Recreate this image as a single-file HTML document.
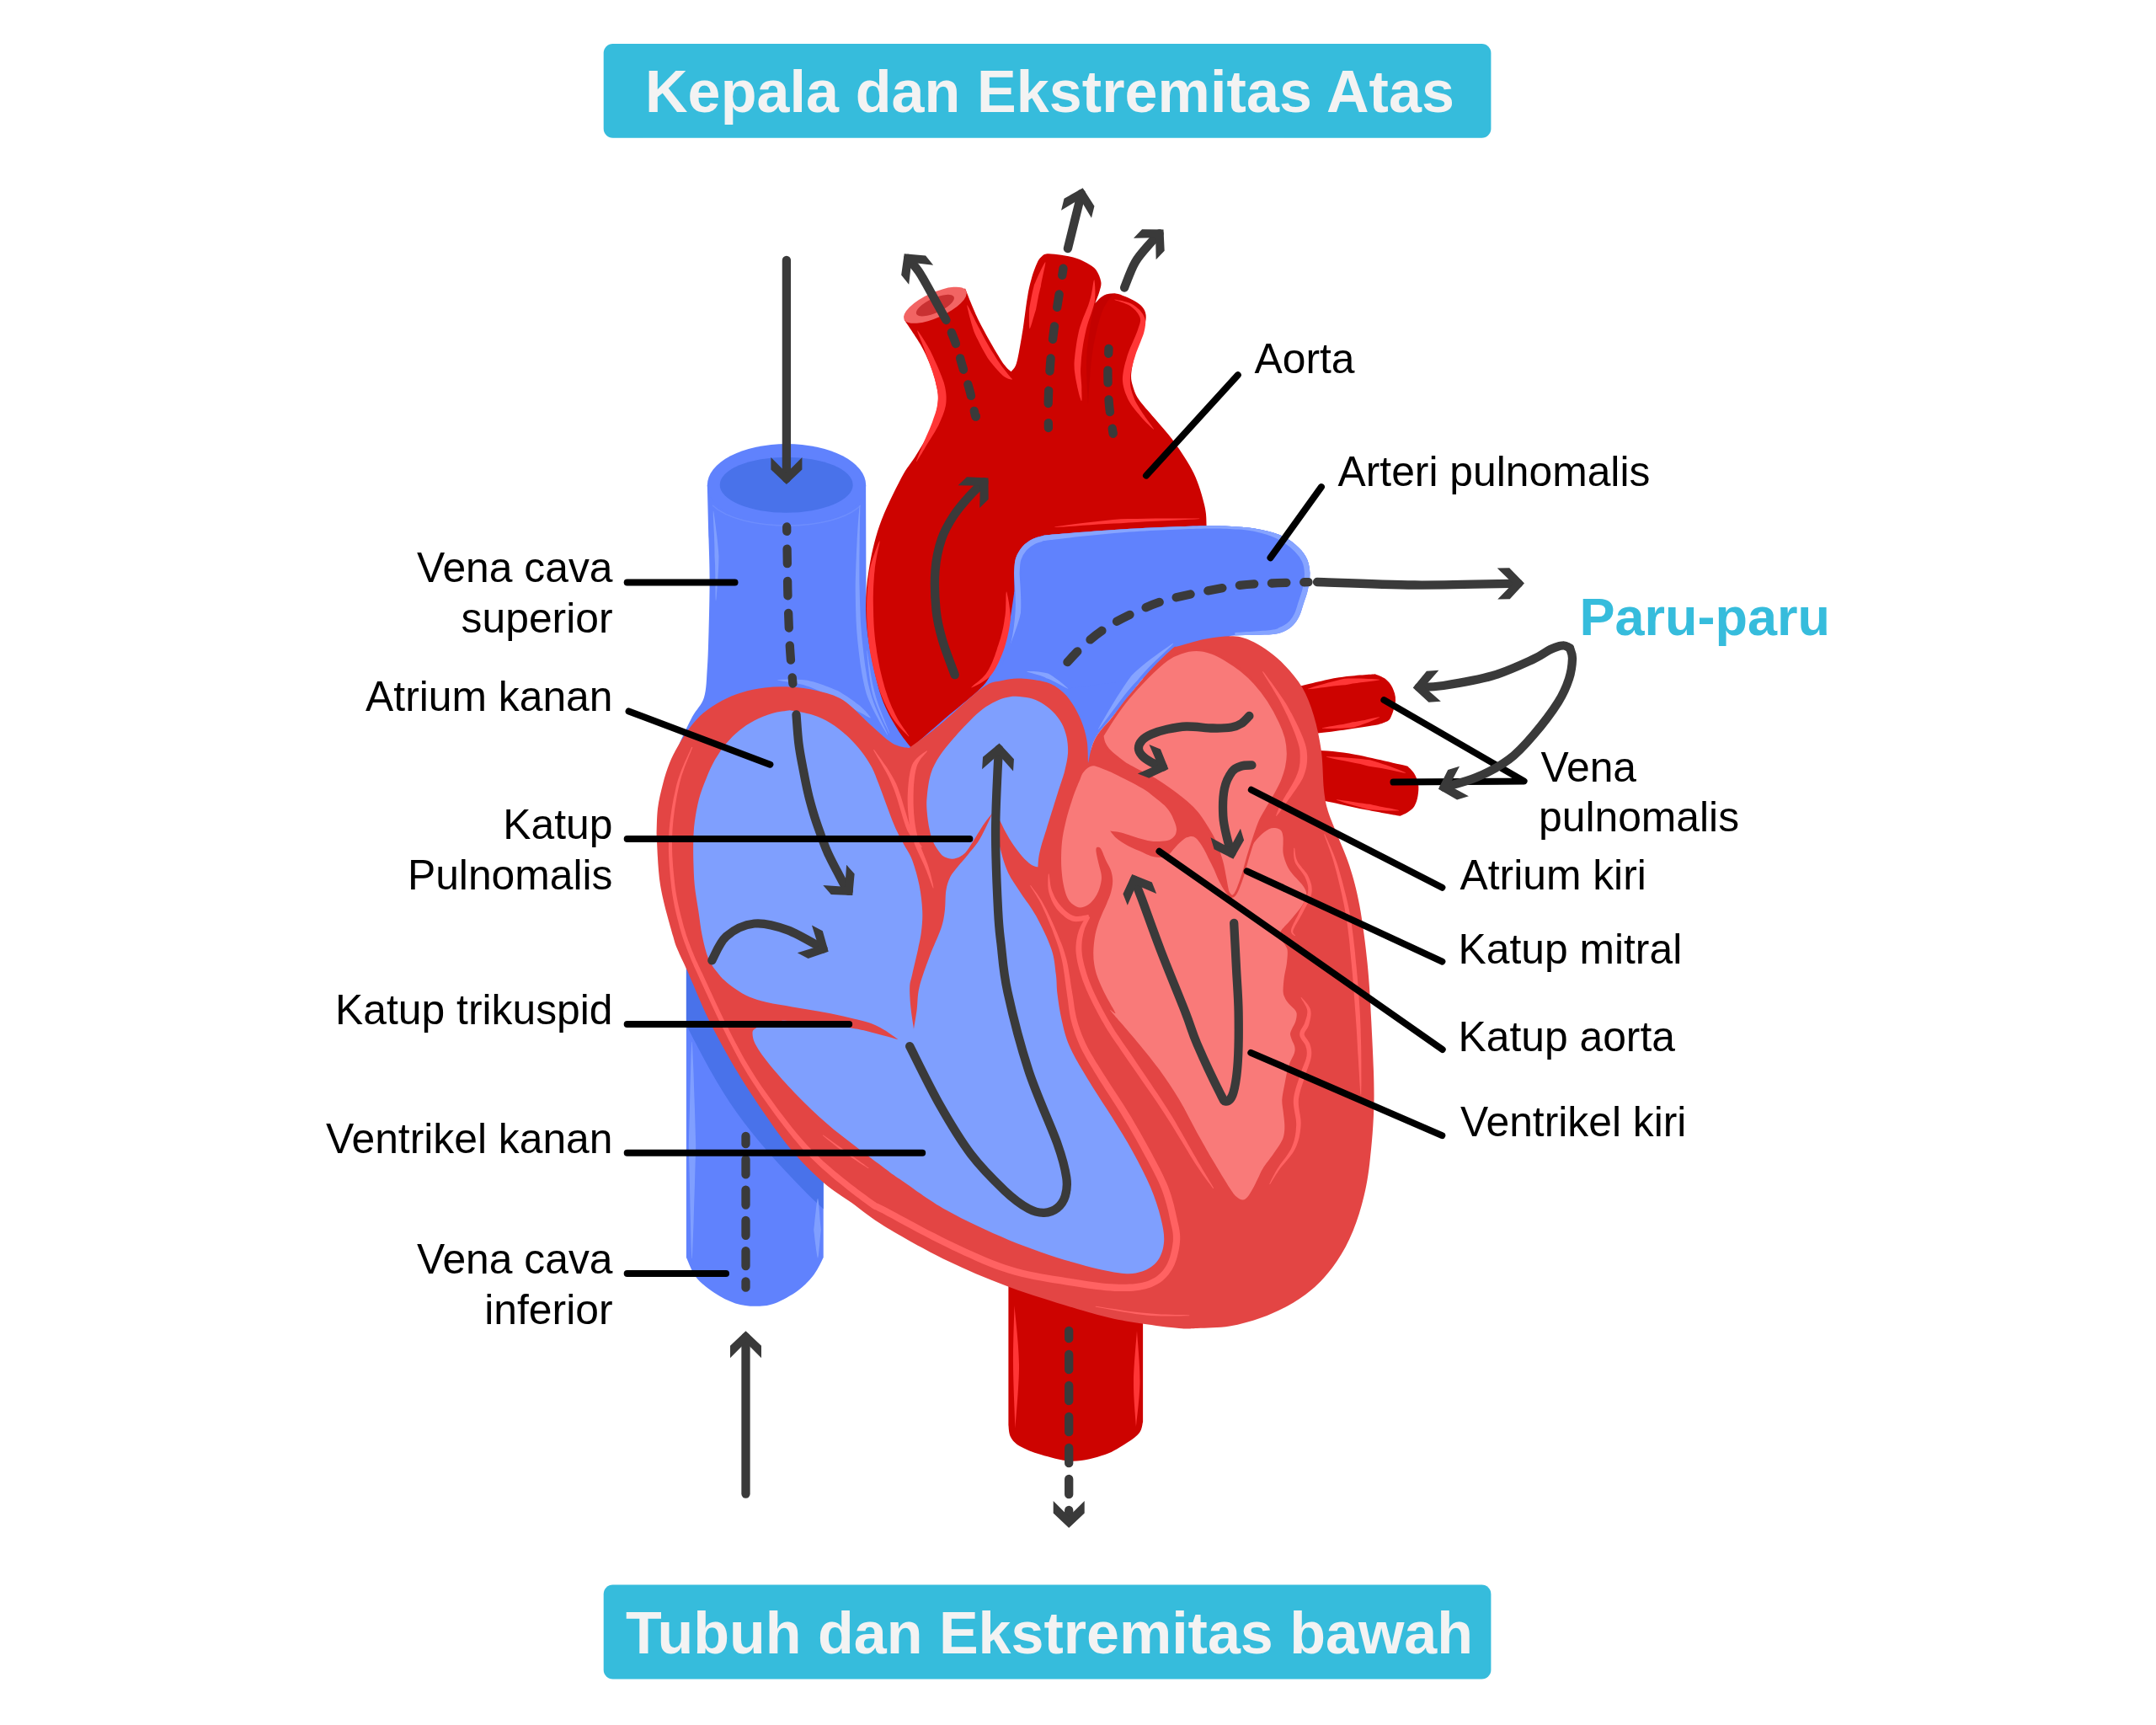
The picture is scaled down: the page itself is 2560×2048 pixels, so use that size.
<!DOCTYPE html>
<html lang="id">
<head>
<meta charset="utf-8">
<title>Jantung</title>
<style>
html,body{margin:0;padding:0;background:#fff;}
body{width:2560px;height:2048px;overflow:hidden;position:relative;font-family:"Liberation Sans",sans-serif;}
svg{position:absolute;left:0;top:0;display:block;}
.lbl{font-family:"Liberation Sans",sans-serif;font-size:49.8px;fill:#000;}
.ban{font-family:"Liberation Sans",sans-serif;font-weight:bold;font-size:70px;letter-spacing:0.1px;fill:#f3f3f3;}
.paru{font-family:"Liberation Sans",sans-serif;font-weight:bold;font-size:63px;fill:#36bcdc;}
.ll{stroke:#000;stroke-width:8;stroke-linecap:round;fill:none;}
.ar{stroke:#3a3a3a;stroke-width:10.3;stroke-linecap:round;stroke-linejoin:round;fill:none;}
.ds{stroke:#3a3a3a;stroke-width:10.3;stroke-linecap:round;fill:none;stroke-dasharray:17.4 20.8;}
.ah{fill:#3a3a3a;}
</style>
</head>
<body>
<svg width="2560" height="2048" viewBox="0 0 2560 2048">
<defs>
<path id="head" d="M0,0 L-18.5,-17.5 L-18.5,-32 L0,-13.5 L18.5,-32 L18.5,-17.5 Z"/>
</defs>
<rect x="0" y="0" width="2560" height="2048" fill="#ffffff"/>

<!-- BANNERS -->
<rect x="716.7" y="52" width="1053.7" height="111.8" rx="11" fill="#36bcdc"/>
<text class="ban" x="1246.5" y="133" text-anchor="middle">Kepala dan Ekstremitas Atas</text>
<rect x="716.7" y="1881.6" width="1053.7" height="111.8" rx="11" fill="#36bcdc"/>
<text class="ban" x="1246" y="1962.5" text-anchor="middle" style="letter-spacing:0">Tubuh dan Ekstremitas bawah</text>

<!-- VESSELS-BACK -->
<g id="vessels-back">
<path d="M839.8,576C840.1,586.7 841,621.2 841.5,640C842,658.8 842.6,670.4 842.6,688.7C842.6,707 842,732.6 841.5,750C841,767.4 840.7,780 839.8,793C838.9,806 839,818.3 836,828C833,837.7 826.7,842.3 822,851C817.3,859.7 812,871 808,880C804,889 799.7,900.8 798,905L830,1000L1300,1000L1300,900L1210,700L1028.5,723L1028.1,576Z" fill="#6082fd" />
<ellipse cx="934" cy="576" rx="94.2" ry="49" fill="#6082fd"/>
<ellipse cx="933.7" cy="575.7" rx="79" ry="33" fill="#4972ea"/>
<path d="M846,600 C880,632 990,632 1022,600" fill="none" stroke="#86a4ff" stroke-width="1.5" opacity=".35"/>
<path d="M846.8,607L846.8,610.2L846.9,614.3L847.1,619.1L847.4,624.5L847.7,630.3L848,636.4L848.2,642.6L848.4,648.7L848.5,654.6L848.5,660.1L848.8,665.6L849.1,671.4L849.2,677.5L849.3,683.7L849.4,689.8L849.4,695.6L849.5,701L849.5,705.8L849.6,709.8L849.8,713L850.2,713L850.6,709.9L850.9,705.8L851.3,701L851.7,695.7L852.1,689.9L852.5,683.8L852.9,677.6L853.2,671.5L853.4,665.5L853.5,659.9L853.1,654.4L852.5,648.4L851.9,642.3L851.2,636.1L850.4,630.1L849.7,624.3L849,618.9L848.3,614.1L847.7,610.1L847.2,607Z" fill="#86a4ff" opacity=".85"/>
<path d="M1020.8,600L1020.5,602.3L1020.2,605.1L1019.9,608.4L1019.6,612.1L1019.3,616.1L1018.9,620.5L1018.6,625.1L1018.3,630L1018,634.9L1017.7,640L1017.5,645.2L1017.2,650.8L1016.9,656.8L1016.7,662.9L1016.4,669.2L1016.2,675.7L1016,682.1L1015.8,688.6L1015.7,695L1015.7,701.2L1015.8,707.4L1015.9,713.5L1016,719.6L1016.2,725.8L1016.4,731.9L1016.6,738.1L1017,744.2L1017.4,750.4L1017.9,756.5L1018.5,762.7L1019.2,768.9L1019.9,775.2L1020.7,781.5L1021.5,787.9L1022.5,794.2L1023.5,800.5L1024.7,806.7L1026,812.8L1027.4,818.7L1029,824.4L1031.1,830.1L1033.6,835.8L1036.3,841.6L1039.2,847.2L1042.1,852.6L1044.9,857.7L1047.6,862.4L1050,866.6L1052.1,870.1L1053.7,872.8L1054.1,872.6L1052.9,869.6L1051.3,865.9L1049.2,861.6L1047,856.7L1044.5,851.4L1042,845.8L1039.6,840.1L1037.4,834.3L1035.4,828.6L1033.8,823L1032.3,817.4L1030.9,811.7L1029.7,805.7L1028.7,799.6L1027.7,793.4L1026.8,787.1L1026,780.8L1025.3,774.5L1024.6,768.3L1023.9,762.1L1023.3,756L1022.8,749.9L1022.3,743.9L1021.9,737.8L1021.6,731.7L1021.4,725.6L1021.2,719.5L1021,713.4L1020.8,707.3L1020.7,701.2L1020.5,695L1020.4,688.6L1020.4,682.2L1020.4,675.7L1020.4,669.3L1020.4,663L1020.5,656.9L1020.6,650.9L1020.6,645.3L1020.7,640L1020.7,635L1020.8,630.1L1020.9,625.2L1020.9,620.6L1021,616.2L1021.1,612.1L1021.2,608.4L1021.2,605.1L1021.3,602.3L1021.2,600Z" fill="#86a4ff" opacity=".85"/>
<path d="M1029.2,772.6L1029.5,775.7L1029.8,779.7L1030.3,784.4L1030.8,789.7L1031.4,795.3L1032.1,801.3L1032.9,807.3L1033.9,813.2L1034.9,818.8L1036.1,824.1L1037.7,829.2L1039.7,834.5L1041.8,840L1044.1,845.4L1046.5,850.7L1048.7,855.7L1050.9,860.4L1052.9,864.5L1054.5,868L1055.8,870.7L1056.2,870.5L1055.2,867.7L1053.8,864.1L1052.1,859.9L1050.1,855.1L1048.1,850L1046,844.6L1043.9,839.2L1042,833.7L1040.3,828.4L1038.9,823.3L1037.6,818.2L1036.3,812.7L1035.2,806.9L1034.1,801L1033.2,795.1L1032.3,789.5L1031.5,784.2L1030.8,779.6L1030.2,775.6L1029.6,772.6Z" fill="#86a4ff" opacity=".85"/>
<path d="M923.3,807.5L925.3,808L928,808.5L931.1,809L934.6,809.5L938.4,810L942.3,810.6L946.2,811.4L950.1,812.2L953.8,813.1L957.2,814.2L960.5,815.3L963.9,816.6L967.3,818L970.8,819.5L974.2,821.1L977.6,822.8L981,824.6L984.2,826.3L987.4,828L990.4,829.7L993.4,831L996.3,832.4L999.3,833.9L1002.1,835.4L1004.9,836.9L1007.6,838.4L1010.2,839.9L1012.7,841.3L1015,842.6L1017.2,843.9L1019.4,845L1021.4,846L1023.3,847.1L1025.1,848.1L1026.8,849L1028.4,849.9L1029.9,850.7L1031.2,851.4L1032.3,852L1033.3,852.4L1033.7,852L1033.1,851.1L1032.3,850.1L1031.4,848.9L1030.4,847.6L1029.2,846.2L1027.9,844.6L1026.4,843.1L1024.8,841.4L1023,839.8L1021.2,838.1L1019.1,836.5L1016.9,834.9L1014.6,833.1L1012.1,831.3L1009.5,829.5L1006.8,827.6L1004,825.7L1001.1,823.9L998.1,822L995,820.3L991.8,818.9L988.4,817.5L984.8,816.1L981.2,814.7L977.5,813.3L973.8,812L970,810.8L966.2,809.6L962.5,808.7L958.8,807.8L954.9,807.3L950.9,806.9L946.8,806.7L942.6,806.6L938.6,806.5L934.8,806.6L931.2,806.7L928.1,806.8L925.4,806.9L923.3,807.1Z" fill="#86a4ff" opacity=".85"/>
<clipPath id="ivcclip"><path d="M814.9,1100L814.9,1493.1C816.9,1497 821,1509.4 826.6,1516.4C832.2,1523.4 840.6,1529.9 848.4,1535.1C856.2,1540.3 865.2,1544.9 873.2,1547.5C881.2,1550.1 888.7,1550.8 896.5,1550.8C904.3,1550.8 911.2,1550.6 919.8,1547.5C928.3,1544.4 940,1537.7 947.8,1532C955.6,1526.3 961.5,1519.8 966.5,1513.3C971.5,1506.8 975.8,1496.5 977.7,1493.1L977.7,1100Z"/></clipPath>
<path d="M814.9,1100L814.9,1493.1C816.9,1497 821,1509.4 826.6,1516.4C832.2,1523.4 840.6,1529.9 848.4,1535.1C856.2,1540.3 865.2,1544.9 873.2,1547.5C881.2,1550.1 888.7,1550.8 896.5,1550.8C904.3,1550.8 911.2,1550.6 919.8,1547.5C928.3,1544.4 940,1537.7 947.8,1532C955.6,1526.3 961.5,1519.8 966.5,1513.3C971.5,1506.8 975.8,1496.5 977.7,1493.1L977.7,1100Z" fill="#6082fd" />
<g clip-path="url(#ivcclip)"><path d="M790,1100C797.6,1116.7 817.8,1165.8 835.4,1200C853,1234.2 872.1,1272.3 895.7,1305.5C919.3,1338.7 949.5,1371.4 977.1,1399C1004.7,1426.6 1047.4,1459.2 1061.5,1471.3" fill="none" stroke="#4972ea" stroke-width="52"/></g>
<path d="M821.3,1237L820.9,1244.3L820.5,1253.6L820.2,1264.5L819.9,1276.8L819.5,1290.1L819.2,1304.1L818.9,1318.4L818.5,1332.7L818.1,1346.7L817.8,1360L818.1,1373.6L818.5,1388.2L818.9,1403.6L819.2,1419.2L819.5,1434.7L819.9,1449.5L820.2,1463.3L820.5,1475.6L820.9,1486L821.3,1494L821.7,1494L822.2,1486L822.6,1475.6L823.1,1463.3L823.6,1449.5L824,1434.7L824.5,1419.3L825,1403.6L825.4,1388.2L825.8,1373.6L826.2,1360L825.8,1346.7L825.4,1332.7L825,1318.4L824.5,1304.1L824,1290.1L823.6,1276.8L823.1,1264.5L822.6,1253.5L822.2,1244.3L821.7,1237Z" fill="#86a4ff" opacity=".85"/>
<path d="M970.8,1423L970.3,1425.2L969.9,1428.1L969.4,1431.5L968.9,1435.3L968.5,1439.4L968,1443.6L967.5,1448L967.1,1452.2L966.7,1456.3L966.2,1460L966.7,1463.7L967.1,1467.5L967.5,1471.4L968,1475.3L968.5,1479.1L968.9,1482.7L969.4,1486.1L969.9,1489L970.3,1491.5L970.8,1493.5L971.2,1493.5L971.6,1491.5L972,1489L972.3,1486L972.6,1482.6L973,1479L973.3,1475.2L973.6,1471.3L974,1467.4L974.4,1463.6L974.8,1460L974.4,1456.3L974,1452.3L973.6,1448L973.3,1443.7L973,1439.4L972.6,1435.3L972.3,1431.5L972,1428.1L971.6,1425.2L971.2,1423Z" fill="#86a4ff" opacity=".85"/>
<path d="M1197.4,1480L1197.4,1692C1197.8,1694.3 1197.7,1701.8 1200,1706C1202.3,1710.2 1205,1713.5 1211,1717C1217,1720.5 1225.5,1724 1236,1727C1246.5,1730 1261.3,1734.7 1274,1734.7C1286.7,1734.7 1301.3,1730.6 1312,1727C1322.7,1723.4 1331.2,1717.3 1338,1713C1344.8,1708.7 1349.8,1705.2 1353,1701C1356.2,1696.8 1356.4,1690.2 1357.1,1688L1357.1,1480Z" fill="#cd0300" />
<path d="M1204.5,1550C1204.2,1561.7 1202.8,1595.7 1203,1620C1203.2,1644.3 1205.1,1683.3 1205.5,1696C1206.2,1683.3 1210.2,1644.3 1210,1620C1209.8,1595.7 1205.4,1561.7 1204.5,1550Z" fill="#ff3636" />
<path d="M1350,1580C1349.3,1590 1346.2,1621 1346,1640C1345.8,1659 1348.5,1685 1349,1694C1349.8,1685 1353.3,1659 1353.5,1640C1353.7,1621 1350.6,1590 1350,1580Z" fill="#ff3636" />
<path d="M1540,815.5C1548.3,813.6 1574.5,806.8 1590,804.3C1605.5,801.8 1625.7,800.9 1632.8,800.2C1634.8,801.2 1641.6,803.3 1645,806C1648.4,808.7 1651.3,812 1653.3,816.3C1655.3,820.6 1657.4,826 1657,832C1656.6,838 1653.3,848.1 1651,852.4C1648.7,856.7 1645.6,856.6 1643,858C1640.4,859.4 1636.5,860.1 1635.2,860.5C1629.3,861.4 1612,864.3 1600,866C1588,867.7 1572.9,869.8 1562.9,870.8C1552.9,871.8 1543.8,871.8 1540,872Z" fill="#cd0300" />
<path d="M1560,890.5C1567,891.2 1583.5,891.4 1602.1,894.6C1620.7,897.8 1659.9,907.2 1671.4,909.7C1672.7,911.1 1676.9,914.5 1679,918C1681.1,921.5 1683.2,926.3 1684,930.8C1684.8,935.3 1684.2,940.6 1683.5,945C1682.8,949.4 1681.4,953.7 1679.5,956.9C1677.6,960.1 1674.8,962 1672,964C1669.2,966 1664,968 1662.4,968.8C1655.3,967.5 1634.1,963.8 1620,961C1605.9,958.2 1588,953.7 1578,951.9C1568,950.1 1563,950.3 1560,950Z" fill="#cd0300" />
<path d="M1553,818.2L1555.7,818.1L1559.2,817.7L1563.3,817.2L1567.9,816.5L1572.8,815.9L1577.9,815.2L1583.1,814.5L1588.1,814L1593,813.5L1597.4,813.2L1601.7,812.4L1606.2,811.6L1610.9,810.9L1615.6,810.3L1620.3,809.7L1624.7,809.2L1628.8,808.7L1632.5,808.2L1635.6,807.7L1638,807.2L1638,806.8L1635.5,806.5L1632.4,806.3L1628.7,806.1L1624.6,805.9L1620.1,805.7L1615.4,805.6L1610.6,805.5L1605.7,805.5L1601,805.6L1596.4,805.8L1591.9,806.8L1587.1,807.9L1582.1,809.2L1577,810.6L1572,811.9L1567.2,813.3L1562.8,814.6L1558.8,815.8L1555.5,816.9L1553,817.8Z" fill="#ff3636" />
<path d="M1570,864.7L1572.3,864.8L1575.1,864.9L1578.6,864.9L1582.4,864.9L1586.5,864.8L1590.8,864.7L1595.1,864.5L1599.4,864.3L1603.4,864L1607.2,863.7L1610.7,862.6L1614.4,861.4L1618,860.1L1621.6,858.8L1625.1,857.4L1628.4,856.1L1631.4,854.8L1634.1,853.6L1636.3,852.6L1638.1,851.7L1637.9,851.3L1636,851.5L1633.6,852L1630.7,852.6L1627.5,853.3L1624.1,854.1L1620.5,854.9L1616.8,855.6L1613.1,856.3L1609.4,856.9L1606,857.3L1602.5,858.2L1598.7,859.1L1594.6,859.9L1590.4,860.6L1586.2,861.3L1582.1,862L1578.4,862.6L1575,863.2L1572.2,863.7L1570,864.3Z" fill="#ff3636" />
<path d="M1575,898.7L1578,899.5L1582,900.4L1586.7,901.4L1591.9,902.4L1597.6,903.5L1603.5,904.7L1609.4,905.9L1615.1,907.1L1620.5,908.4L1625.4,909.7L1630.2,910.4L1635.2,911.2L1640.2,912.1L1645.3,913.1L1650.2,914.1L1654.9,915.1L1659.2,916L1663,916.8L1666.3,917.4L1668.9,917.7L1669.1,917.3L1666.6,916.2L1663.6,915L1659.9,913.5L1655.8,912L1651.3,910.3L1646.5,908.6L1641.6,906.9L1636.6,905.3L1631.7,903.7L1626.8,902.3L1621.7,901.7L1616.1,901.1L1610.2,900.5L1604.1,900L1598.1,899.5L1592.4,899.1L1587,898.8L1582.2,898.5L1578.2,898.3L1575,898.3Z" fill="#ff3636" />
<path d="M1586.9,949.7L1589.2,950.6L1592.2,951.6L1595.7,952.7L1599.7,953.9L1604,955.2L1608.4,956.5L1613,957.8L1617.4,959L1621.6,960.2L1625.5,961.2L1629.5,961.5L1633.5,961.8L1637.7,962.1L1641.8,962.3L1645.8,962.4L1649.6,962.5L1653.1,962.6L1656.2,962.6L1658.9,962.6L1661,962.5L1661,962.1L1659,961.5L1656.4,960.9L1653.3,960.3L1649.9,959.6L1646.2,958.9L1642.3,958.2L1638.3,957.4L1634.3,956.6L1630.4,955.7L1626.7,954.8L1622.7,954.4L1618.5,953.8L1613.9,953.2L1609.3,952.5L1604.8,951.8L1600.4,951.1L1596.2,950.4L1592.6,949.9L1589.5,949.5L1587.1,949.3Z" fill="#ff3636" />
<path d="M1180,801C1183,796 1193.8,783.5 1198.1,771C1202.4,758.5 1204.6,740.9 1205.6,725.8C1206.6,710.7 1204.3,688.1 1204.1,680.6C1204.4,677.7 1204.3,668.3 1206,663C1207.7,657.7 1210.7,652.8 1214,649C1217.3,645.2 1221.6,642.3 1226,640C1230.4,637.7 1237.9,636.2 1240.3,635.4C1255.2,634.2 1299.8,630.3 1330,628.5C1360.2,626.7 1397.9,625 1421.2,624.5C1444.5,624 1456.9,624.7 1470,625.5C1483.1,626.3 1491,627.6 1500,629.5C1509,631.4 1517,633.6 1524,637C1531,640.4 1537.1,645.5 1541.8,650C1546.5,654.5 1549.7,658.9 1552,664C1554.3,669.1 1555.2,674.6 1555.4,680.6C1555.6,686.6 1554.3,694 1553,700C1551.7,706 1549.5,711.6 1547.8,716.8C1546.1,722 1545,726.8 1543,731C1541,735.2 1538.7,738.9 1535.7,742C1532.7,745.1 1529,747.7 1525,749.5C1521,751.3 1517.4,752.3 1511.6,753C1505.8,753.7 1497.5,753.5 1490,753.8C1482.5,754 1474.7,754 1466.4,754.5C1458.1,755 1447.5,756 1440,757C1432.5,758 1429.4,758.2 1421.2,760.5C1413,762.8 1401,764.2 1391,771C1381,777.8 1372,788.6 1360.9,801.2C1349.9,813.8 1334.8,833.8 1324.7,846.4C1314.7,859 1306.1,866.5 1300.6,876.6C1295.1,886.7 1293,901.7 1291.5,906.7L1291.5,1000L1100,1000Z" fill="#6082fd" />
</g>

<!-- AORTA -->
<g id="aorta">
<path d="M1073.7,379.7C1076.9,384.5 1087.8,400 1092.8,408.7C1097.8,417.4 1100.9,424.3 1104,432C1107.1,439.7 1109.7,447.3 1111.3,455C1112.9,462.7 1114.9,469.1 1113.8,478.3C1112.7,487.5 1109,499.7 1104.7,510C1100.4,520.3 1093.8,530.3 1088,540C1082.2,549.7 1077.2,554 1069.9,568C1062.6,582 1050.8,605.6 1044.4,623.8C1038,642 1034.3,660.4 1031.6,677C1028.9,693.6 1027.9,708 1028.1,723.5C1028.3,739 1029.7,752.5 1032.8,769.9C1035.9,787.3 1041.3,812 1046.7,827.9C1052.1,843.8 1059.3,855 1065.2,865C1071.1,875 1079.2,884.2 1082,888C1088.7,882.2 1109,864.2 1122,853C1135,841.8 1151.6,828.9 1160.3,820.9C1169,812.9 1169.8,811.9 1174.2,804.7C1178.7,797.6 1183.1,787.7 1187,778C1190.9,768.3 1194.5,759.3 1197.4,746.7C1200.3,734.1 1203.2,710 1204.4,702.6L1300,720L1432,650C1432.1,645.8 1432.9,633.1 1432.6,624.8C1432.3,616.5 1432.7,610.5 1430.2,600C1427.7,589.5 1423.4,574.3 1417.4,561.8C1411.4,549.2 1401.9,535.5 1394.2,524.7C1386.5,513.9 1378,505.2 1371,496.8C1364,488.4 1356.3,480.5 1352,474C1347.7,467.5 1346.5,463.1 1345,458C1343.5,452.9 1342.7,449.8 1343.2,443.5C1343.7,437.2 1345.4,429.2 1347.9,420.3C1350.4,411.4 1356.2,397.9 1358.3,390.2C1360.4,382.5 1361,378.4 1360.6,374C1360.2,369.6 1358.1,366.7 1356,364C1353.9,361.3 1351.2,359.7 1347.9,357.7C1344.6,355.7 1339.9,353.6 1336,352C1332.1,350.4 1328.9,348.6 1324.7,348.4C1320.5,348.2 1314.9,348.8 1310.8,350.7C1306.7,352.6 1302,358.4 1300.3,360C1301.2,357.7 1304.3,350.2 1305.5,346C1306.7,341.8 1308,338.7 1307.3,334.5C1306.6,330.3 1304.2,324.3 1301.5,320.6C1298.8,316.9 1294.9,314.8 1291,312.5C1287.1,310.2 1283.5,308.3 1278.3,306.7C1273.1,305.1 1265.8,303.7 1260,302.8C1254.2,301.9 1247.3,301 1243.5,301.3C1239.7,301.6 1238.9,302.8 1237,304.5C1235.1,306.2 1233.9,307.1 1231.9,311.3C1229.9,315.6 1226.9,323.4 1225,330C1223.1,336.6 1222,341 1220.3,350.7C1218.6,360.4 1216.7,376.8 1215,388C1213.3,399.2 1211.4,410.3 1209.9,418C1208.4,425.7 1207.5,430.1 1206,434C1204.5,437.9 1201.5,440 1200.6,441.2C1199.5,440.2 1196.5,438.1 1194,435C1191.5,431.9 1190.8,431.6 1185.5,422.6C1180.2,413.6 1168.9,394.2 1162.3,380.9C1155.7,367.6 1148.7,349 1146,342.6L1073.7,379.7Z" fill="#cd0300" />
<ellipse cx="1110.4" cy="362.3" rx="40.6" ry="14.8" transform="rotate(-24.5 1110.4 362.3)" fill="#f26463"/>
<ellipse cx="1110.4" cy="362.6" rx="24.5" ry="8.6" transform="rotate(-24.4 1110.4 362.6)" fill="#c93132"/>
<path d="M1300.3,360C1302,358.4 1307.2,352.6 1310.8,350.7C1314.4,348.8 1320.1,348.9 1322,348.5C1319.7,352.4 1312.2,360.1 1308,372C1303.8,383.9 1299.7,402 1297,420C1294.3,438 1292.8,470 1292,480C1291.7,471.7 1289.7,445 1290,430C1290.3,415 1292.3,401.7 1294,390C1295.7,378.3 1299.2,365 1300.3,360Z" fill="#b90000" opacity=".45"/>
<path d="M1089.1,392.6L1089.6,394.2L1090.3,396.2L1091.2,398.4L1092.2,400.9L1093.3,403.7L1094.5,406.6L1095.7,409.7L1097,412.8L1098.1,416L1099.2,419.2L1100.5,422.5L1101.8,426.2L1103.2,430L1104.6,434L1106,438.1L1107.4,442.1L1108.6,446L1109.8,449.8L1110.7,453.2L1111.4,456.4L1112.1,459.1L1112.7,461.6L1113.1,463.9L1113.4,466L1113.6,468L1113.7,469.9L1113.7,471.8L1113.7,473.7L1113.5,475.7L1113.3,477.8L1113.1,479.9L1112.8,481.9L1112.4,484.1L1111.9,486.3L1111.3,488.5L1110.6,490.7L1109.8,493L1109,495.3L1108.2,497.6L1107.4,499.9L1106.6,502.2L1105.7,504.5L1104.8,506.8L1103.8,509.2L1102.8,511.5L1101.7,513.9L1100.7,516.3L1099.6,518.7L1098.5,521.2L1097.5,523.6L1096.5,526.1L1095.4,528.8L1094.2,531.6L1093.1,534.4L1091.9,537.1L1090.9,539.8L1089.9,542.2L1089.1,544.4L1088.4,546.3L1087.9,547.8L1088.3,548L1089.2,546.7L1090.3,545.1L1091.6,543.1L1092.9,540.8L1094.4,538.4L1095.9,535.8L1097.5,533.2L1099,530.6L1100.5,528.1L1101.9,525.8L1103.3,523.6L1104.6,521.4L1106,519.2L1107.4,516.9L1108.8,514.7L1110.2,512.4L1111.5,510.1L1112.8,507.8L1114.1,505.5L1115.2,503.1L1116.2,500.8L1117.2,498.5L1118.2,496.1L1119.2,493.7L1120.1,491.3L1120.9,488.9L1121.7,486.4L1122.3,483.9L1122.9,481.4L1123.3,478.8L1123.5,476.4L1123.6,474.1L1123.6,471.8L1123.5,469.5L1123.3,467.1L1123,464.7L1122.6,462.2L1122.1,459.6L1121.4,456.8L1120.6,453.8L1119.4,450.6L1118.1,447L1116.6,443.2L1115,439.3L1113.3,435.3L1111.5,431.3L1109.7,427.4L1108,423.6L1106.3,420.1L1104.8,416.8L1103.1,413.7L1101.4,410.7L1099.6,407.7L1097.9,404.9L1096.2,402.2L1094.6,399.7L1093.1,397.4L1091.7,395.4L1090.5,393.7L1089.5,392.4Z" fill="#ff3636" />
<path d="M1148.2,362.4L1148.5,364.3L1149,366.7L1149.7,369.6L1150.4,372.8L1151.3,376.2L1152.3,379.8L1153.3,383.5L1154.4,387.1L1155.5,390.7L1156.6,394.1L1158,397.2L1159.5,400.4L1161.1,403.6L1162.7,406.8L1164.3,410L1166,413.2L1167.7,416.3L1169.4,419.3L1171.1,422.2L1172.7,424.9L1174.5,427.4L1176.4,429.9L1178.3,432.3L1180.1,434.6L1182,436.7L1183.8,438.8L1185.6,440.7L1187.2,442.5L1188.8,444.1L1190.3,445.5L1191.8,446.7L1193.3,447.7L1194.7,448.6L1196.1,449.2L1197.3,449.7L1198.4,450L1199.4,450.3L1200.2,450.5L1201,450.6L1201.7,450.7L1201.9,450.3L1201.6,449.7L1201,449.1L1200.4,448.4L1199.8,447.7L1199,446.9L1198.3,446.1L1197.4,445.1L1196.6,444.1L1195.7,442.8L1194.7,441.5L1193.5,439.9L1192.2,438.2L1190.7,436.4L1189.2,434.4L1187.7,432.2L1186.1,430L1184.5,427.7L1182.9,425.3L1181.4,422.8L1179.9,420.3L1178.2,417.8L1176.5,415.1L1174.8,412.2L1173.1,409.3L1171.4,406.2L1169.7,403.2L1168,400.1L1166.4,397L1164.9,393.9L1163.4,390.9L1161.7,388L1160,384.8L1158.3,381.5L1156.7,378.1L1155.1,374.8L1153.5,371.7L1152.1,368.7L1150.8,366.1L1149.6,363.9L1148.6,362.2Z" fill="#ff3636" />
<path d="M1241,311.2L1240,312.7L1238.9,314.7L1237.7,317.1L1236.3,319.8L1234.9,322.8L1233.4,325.8L1232,329L1230.6,332.1L1229.3,335.2L1228,338L1227.3,340.9L1226.6,343.8L1225.9,346.8L1225.3,349.7L1224.7,352.6L1224.2,355.4L1223.6,358.2L1223.1,361L1222.6,363.7L1222.2,366.3L1222.1,369L1222,371.8L1221.9,374.6L1221.9,377.4L1221.9,380L1221.9,382.6L1222,384.9L1222,387L1222.2,388.8L1222.4,390.2L1222.8,390.2L1223.4,388.9L1224,387.3L1224.7,385.3L1225.4,383.1L1226.1,380.6L1226.8,378.1L1227.6,375.5L1228.4,372.8L1229.2,370.2L1230,367.7L1230.5,365.1L1231,362.4L1231.5,359.7L1232,356.9L1232.6,354.1L1233.1,351.3L1233.7,348.5L1234.4,345.7L1235,342.9L1235.8,340.2L1236.2,337.2L1236.8,334.1L1237.5,330.8L1238.2,327.4L1238.9,324.2L1239.6,321L1240.3,318.1L1240.8,315.4L1241.2,313.2L1241.4,311.4Z" fill="#ff3636" />
<path d="M1299,332.2L1298.6,333.6L1298.2,335.5L1297.9,337.6L1297.5,340.1L1297.1,342.7L1296.6,345.5L1296.1,348.3L1295.5,351.3L1294.7,354.2L1293.9,357L1293,359.9L1292,363L1290.7,366.2L1289.4,369.5L1288,373L1286.5,376.6L1285.1,380.2L1283.8,383.9L1282.5,387.7L1281.4,391.6L1280.5,395.5L1279.7,399.5L1278.9,403.6L1278.2,407.8L1277.6,412.1L1277,416.2L1276.5,420.3L1276.1,424.3L1275.7,428.1L1275.5,431.7L1275.6,435.2L1275.7,438.5L1276.1,441.7L1276.5,444.7L1276.9,447.6L1277.4,450.4L1277.9,453L1278.4,455.4L1278.9,457.8L1279.3,460L1279.8,462.1L1280.3,464.2L1280.8,466.2L1281.2,468.1L1281.7,469.8L1282.2,471.4L1282.7,472.8L1283.1,474.1L1283.5,475.2L1283.9,476L1284.3,476L1284.4,475L1284.5,473.9L1284.5,472.5L1284.5,471L1284.5,469.4L1284.4,467.6L1284.4,465.7L1284.3,463.7L1284.3,461.6L1284.3,459.4L1284.2,457.1L1284,454.7L1283.8,452.2L1283.6,449.6L1283.4,446.9L1283.2,444.1L1283.1,441.2L1283.1,438.3L1283.3,435.2L1283.5,432.1L1283.7,428.7L1284,425.1L1284.4,421.2L1284.9,417.3L1285.5,413.2L1286.1,409.1L1286.8,405L1287.6,401L1288.4,397.1L1289.2,393.4L1290,389.8L1291,386.3L1292.1,382.6L1293.3,379L1294.5,375.5L1295.8,371.9L1296.9,368.4L1298,365L1299,361.6L1299.7,358.4L1300.1,355.1L1300.3,351.9L1300.4,348.8L1300.4,345.8L1300.3,342.9L1300.2,340.2L1300,337.7L1299.8,335.6L1299.6,333.7L1299.4,332.2Z" fill="#ff3636" />
<path d="M1323.4,356L1324.6,356.5L1326.2,357L1328,357.6L1330.1,358.3L1332.3,359L1334.6,359.8L1336.8,360.7L1338.9,361.6L1340.8,362.5L1342.4,363.6L1343.9,364.7L1345.4,365.9L1346.8,367.2L1348.2,368.6L1349.4,370.1L1350.6,371.5L1351.6,373L1352.5,374.5L1353.2,375.9L1353.7,377.2L1353.9,378.5L1354.1,379.7L1354.1,380.8L1353.9,381.9L1353.7,383L1353.4,384.3L1352.9,385.8L1352.3,387.4L1351.7,389.3L1351,391.4L1350.2,393.7L1349.2,396.2L1348.1,399L1346.8,402L1345.4,405.2L1344,408.4L1342.5,411.7L1341.2,414.9L1340,418.2L1338.9,421.3L1338,424.2L1337.2,427.2L1336.3,430.1L1335.5,433L1334.8,436L1334.2,438.9L1333.7,441.8L1333.3,444.7L1333,447.6L1332.9,450.5L1333.1,453.3L1333.4,456L1333.9,458.6L1334.5,461.1L1335.2,463.6L1336,466L1336.9,468.3L1337.9,470.6L1338.9,472.9L1340,475.2L1341.3,477.4L1342.7,479.7L1344.2,481.9L1345.8,484.1L1347.5,486.2L1349.1,488.2L1350.8,490.2L1352.4,492.1L1354,494L1355.5,495.7L1357,497.4L1358.7,499.2L1360.3,500.9L1361.9,502.5L1363.5,504.1L1365,505.6L1366.5,506.9L1367.7,508L1368.8,509L1369.7,509.8L1370.1,509.4L1369.5,508.4L1368.6,507.2L1367.6,505.8L1366.5,504.3L1365.2,502.6L1363.9,500.8L1362.6,499L1361.2,497.1L1359.9,495.2L1358.7,493.3L1357.4,491.4L1356.1,489.4L1354.7,487.3L1353.3,485.2L1352,483L1350.6,480.8L1349.4,478.7L1348.2,476.5L1347.2,474.4L1346.4,472.2L1345.6,470.1L1344.8,467.9L1344.1,465.8L1343.5,463.6L1342.9,461.5L1342.5,459.3L1342.2,457.2L1342,455L1341.9,452.8L1341.9,450.5L1342,448.2L1342.2,445.8L1342.5,443.3L1343,440.7L1343.6,438L1344.3,435.3L1345,432.5L1345.8,429.6L1346.6,426.8L1347.5,423.9L1348.4,421.1L1349.4,418.1L1350.6,414.9L1351.9,411.7L1353.2,408.5L1354.5,405.3L1355.7,402.1L1356.9,399.1L1357.9,396.3L1358.6,393.6L1359.1,391.3L1359.5,389.3L1359.8,387.3L1360,385.5L1360.2,383.8L1360.1,382L1359.9,380.3L1359.6,378.7L1359,377L1358.3,375.4L1357.5,373.7L1356.4,372L1355.2,370.4L1353.8,368.8L1352.4,367.3L1350.8,365.9L1349.2,364.5L1347.5,363.2L1345.7,362.1L1344,361L1342,360.1L1339.9,359.3L1337.5,358.5L1335.2,357.9L1332.8,357.3L1330.5,356.8L1328.3,356.4L1326.4,356.1L1324.8,355.8L1323.6,355.6Z" fill="#ff3636" />
<path d="M1044.2,642.2L1043.3,644.2L1042.3,646.6L1041.2,649.5L1039.9,652.8L1038.6,656.4L1037.3,660.2L1035.9,664.2L1034.7,668.3L1033.6,672.5L1032.6,676.7L1032,680.9L1031.4,685.3L1030.9,689.9L1030.4,694.6L1030,699.4L1029.7,704.2L1029.4,709.1L1029.2,714L1029.1,718.8L1029,723.5L1029.1,728.2L1029.2,732.9L1029.4,737.6L1029.6,742.3L1029.9,747L1030.3,751.7L1030.8,756.4L1031.3,761.1L1031.9,765.8L1032.5,770.5L1033.3,775.2L1034.2,780.1L1035.2,784.9L1036.2,789.8L1037.3,794.6L1038.5,799.4L1039.7,804.1L1040.9,808.7L1042.2,813.1L1043.6,817.3L1045,821.4L1046.4,825.3L1048,829.1L1049.5,832.8L1051.2,836.3L1052.8,839.8L1054.5,843.1L1056.2,846.3L1057.9,849.4L1059.6,852.3L1061.6,855.2L1063.7,858L1065.9,860.7L1068.1,863.3L1070.4,865.7L1072.5,868L1074.5,870L1076.3,871.8L1077.8,873.3L1079,874.5L1079.4,874.1L1078.5,872.7L1077.3,870.9L1075.9,868.8L1074.3,866.5L1072.5,864L1070.7,861.3L1068.9,858.6L1067.1,855.7L1065.4,852.8L1064,849.9L1062.5,846.9L1061,843.8L1059.5,840.7L1058.1,837.4L1056.7,834L1055.3,830.4L1053.9,826.8L1052.7,823.1L1051.4,819.2L1050.2,815.3L1049.1,811.1L1047.9,806.8L1046.8,802.3L1045.7,797.7L1044.6,793L1043.7,788.2L1042.8,783.4L1041.9,778.7L1041.1,773.9L1040.5,769.3L1039.8,764.7L1039.2,760.2L1038.7,755.6L1038.3,751L1037.9,746.4L1037.6,741.8L1037.4,737.2L1037.2,732.6L1037.1,728.1L1037,723.5L1036.9,718.8L1036.8,714.1L1036.8,709.3L1036.9,704.5L1037,699.8L1037.2,695.1L1037.5,690.4L1037.8,686L1038.1,681.6L1038.6,677.5L1038.9,673.5L1039.5,669.4L1040.2,665.2L1040.9,661.2L1041.7,657.2L1042.5,653.5L1043.2,650.1L1043.9,647.1L1044.4,644.5L1044.6,642.4Z" fill="#ff3636" />
<path d="M1194.9,702.6L1194.6,704.6L1194.5,707.1L1194.4,710L1194.4,713.3L1194.3,716.8L1194.2,720.5L1194.1,724.2L1193.8,727.9L1193.4,731.5L1192.8,734.8L1192.4,738L1191.8,741.4L1191.2,744.8L1190.4,748.3L1189.6,751.8L1188.6,755.3L1187.7,758.7L1186.6,762.1L1185.5,765.4L1184.4,768.6L1183.4,771.9L1182.3,775.1L1181.2,778.4L1180,781.6L1178.8,784.7L1177.5,787.7L1176.2,790.6L1174.8,793.3L1173.3,795.9L1171.8,798.2L1170.3,800.4L1168.5,802.6L1166.4,804.7L1164.2,806.8L1162,808.7L1159.8,810.5L1157.7,812.1L1155.9,813.6L1154.4,815L1153.3,816.1L1153.5,816.5L1155,815.8L1156.8,815L1158.9,813.9L1161.3,812.7L1163.8,811.4L1166.5,809.8L1169.2,808.1L1171.8,806.2L1174.3,804.1L1176.6,801.8L1178.5,799.3L1180.3,796.6L1182,793.7L1183.6,790.7L1185.2,787.5L1186.7,784.3L1188.1,781.1L1189.5,777.8L1190.7,774.5L1192,771.2L1193.1,767.8L1194.1,764.3L1195.1,760.8L1196,757.2L1196.8,753.5L1197.6,749.9L1198.3,746.2L1198.9,742.6L1199.4,739L1199.8,735.4L1199.7,731.8L1199.5,727.9L1199.1,724.1L1198.6,720.3L1198.1,716.5L1197.5,713L1196.9,709.8L1196.3,706.9L1195.8,704.5L1195.3,702.6Z" fill="#ff3636" />
<path d="M1252.4,625.9L1257,625.7L1262.9,625.4L1269.7,624.9L1277.5,624.4L1285.8,623.8L1294.7,623.2L1303.8,622.6L1313,622.1L1322.1,621.6L1330.8,621.3L1340,620.6L1350,620L1360.6,619.3L1371.5,618.8L1382.4,618.2L1392.8,617.7L1402.6,617.3L1411.3,616.8L1418.6,616.4L1424.2,616L1424.2,615.6L1418.6,615.5L1411.2,615.4L1402.5,615.4L1392.8,615.4L1382.3,615.5L1371.4,615.6L1360.5,615.7L1349.8,615.9L1339.7,616.1L1330.6,616.3L1321.7,617.1L1312.7,618L1303.5,619L1294.4,620L1285.6,621.1L1277.2,622.1L1269.6,623.1L1262.7,624L1256.9,624.8L1252.4,625.5Z" fill="#ff3636" />
<path d="M1204.4,704L1204.1,680.6C1204.4,677.7 1204.3,668.3 1206,663C1207.7,657.7 1210.7,652.8 1214,649C1217.3,645.2 1221.6,642.3 1226,640C1230.4,637.7 1237.9,636.2 1240.3,635.4C1255.2,634.2 1299.8,630.3 1330,628.5C1360.2,626.7 1397.9,625 1421.2,624.5C1444.5,624 1456.9,624.7 1470,625.5C1483.1,626.3 1491,627.6 1500,629.5C1509,631.4 1517,633.6 1524,637C1531,640.4 1537.1,645.5 1541.8,650C1546.5,654.5 1549.7,658.9 1552,664C1554.3,669.1 1554.8,677.8 1555.4,680.6L1440,756L1300,780Z" fill="#6082fd" />
<clipPath id="paclip"><path d="M1180,801C1183,796 1193.8,783.5 1198.1,771C1202.4,758.5 1204.6,740.9 1205.6,725.8C1206.6,710.7 1204.3,688.1 1204.1,680.6C1204.4,677.7 1204.3,668.3 1206,663C1207.7,657.7 1210.7,652.8 1214,649C1217.3,645.2 1221.6,642.3 1226,640C1230.4,637.7 1237.9,636.2 1240.3,635.4C1255.2,634.2 1299.8,630.3 1330,628.5C1360.2,626.7 1397.9,625 1421.2,624.5C1444.5,624 1456.9,624.7 1470,625.5C1483.1,626.3 1491,627.6 1500,629.5C1509,631.4 1517,633.6 1524,637C1531,640.4 1537.1,645.5 1541.8,650C1546.5,654.5 1549.7,658.9 1552,664C1554.3,669.1 1555.2,674.6 1555.4,680.6C1555.6,686.6 1554.3,694 1553,700C1551.7,706 1549.5,711.6 1547.8,716.8C1546.1,722 1545,726.8 1543,731C1541,735.2 1538.7,738.9 1535.7,742C1532.7,745.1 1529,747.7 1525,749.5C1521,751.3 1517.4,752.3 1511.6,753C1505.8,753.7 1497.5,753.5 1490,753.8C1482.5,754 1474.7,754 1466.4,754.5C1458.1,755 1447.5,756 1440,757C1432.5,758 1429.4,758.2 1421.2,760.5C1413,762.8 1401,764.2 1391,771C1381,777.8 1372,788.6 1360.9,801.2C1349.9,813.8 1334.8,833.8 1324.7,846.4C1314.7,859 1306.1,866.5 1300.6,876.6C1295.1,886.7 1293,901.7 1291.5,906.7L1291.5,1000L1100,1000Z"/></clipPath>
<g clip-path="url(#paclip)"><path d="M1198,771C1199.3,763.5 1204.6,740.9 1205.6,725.8C1206.6,710.7 1204.3,688.1 1204.1,680.6C1204.4,677.7 1204.3,668.3 1206,663C1207.7,657.7 1210.7,652.8 1214,649C1217.3,645.2 1221.6,642.3 1226,640C1230.4,637.7 1237.9,636.2 1240.3,635.4C1255.2,634.2 1299.8,630.3 1330,628.5C1360.2,626.7 1397.9,625 1421.2,624.5C1444.5,624 1456.9,624.7 1470,625.5C1483.1,626.3 1491,627.6 1500,629.5C1509,631.4 1517,633.6 1524,637C1531,640.4 1537.1,645.5 1541.8,650C1546.5,654.5 1549.7,658.9 1552,664C1554.3,669.1 1555.2,674.6 1555.4,680.6C1555.6,686.6 1554.3,694 1553,700C1551.7,706 1549.5,711.6 1547.8,716.8C1546.1,722 1545,726.8 1543,731C1541,735.2 1538.7,738.9 1535.7,742C1532.7,745.1 1529,747.7 1525,749.5C1521,751.3 1517.4,752.3 1511.6,753C1505.8,753.7 1497.5,753.5 1490,753.8C1482.5,754 1470.3,754.4 1466.4,754.5" fill="none" stroke="#86a4ff" stroke-width="13"/></g>
<path d="M1190,790C1193.7,779.7 1208.2,745.7 1212,728C1215.8,710.3 1212.4,691.3 1212.5,684C1212.8,681.3 1212.6,672.7 1214,668C1215.4,663.3 1218,659.2 1221,656C1224,652.8 1228.2,651 1232,649C1235.8,647 1242,644.8 1244,644C1244,643.6 1229.7,643.4 1244,641.5C1258.3,639.6 1300.5,634.8 1330,632.5C1359.5,630.2 1397.7,628.4 1421,627.8C1444.3,627.1 1457.2,627.7 1470,628.6C1482.8,629.5 1489.7,630.9 1498,633C1506.3,635.1 1513.7,638 1520,641.5C1526.3,645 1531.8,649.8 1536,654C1540.2,658.2 1543,662.5 1545,667C1547,671.5 1547.8,675.7 1548,681C1548.2,686.3 1547.2,693.3 1546,699C1544.8,704.7 1542.7,710.2 1541,715C1539.3,719.8 1538,724.2 1536,728C1534,731.8 1531.7,735.2 1529,738C1526.3,740.8 1523.3,742.8 1520,744.5C1516.7,746.2 1518,746.9 1509,748C1500,749.1 1473.2,750.5 1466,751L1400,800L1250,820Z" fill="#6082fd" />
<path d="M1392.8,763.8L1389.8,765.8L1386,768.4L1381.5,771.5L1376.5,775L1371.2,778.9L1365.6,783.1L1359.9,787.6L1354.2,792.2L1348.7,797.1L1343.6,802L1339.2,808L1334.6,814.7L1329.9,821.9L1325.2,829.3L1320.7,836.7L1316.3,844L1312.4,850.7L1308.9,856.8L1306,861.9L1303.8,865.9L1304.2,866.1L1307.1,862.7L1310.7,858L1314.9,852.4L1319.6,846.1L1324.6,839.4L1329.8,832.5L1335.1,825.6L1340.4,819.1L1345.6,813.1L1350.4,808L1354.6,802.7L1359.3,797.5L1364.2,792.3L1369.2,787.3L1374.2,782.5L1379,778L1383.4,773.8L1387.4,770.1L1390.7,766.9L1393.2,764.2Z" fill="#86a4ff" />
<path d="M1219.2,797.3L1220.6,797.9L1222.4,798.5L1224.6,799.1L1227,799.7L1229.6,800.5L1232.3,801.2L1235.1,802.1L1237.8,803.1L1240.3,804.1L1242.5,805.3L1245,806.1L1247.8,807.3L1250.7,808.7L1253.7,810.2L1256.6,811.7L1259.4,813.3L1262,814.8L1264.4,816.1L1266.5,817.1L1268.1,817.8L1268.3,817.4L1267,816.2L1265.3,814.7L1263.3,813L1260.9,811.1L1258.4,809L1255.7,807L1252.9,804.9L1250.2,803L1247.5,801.2L1244.9,799.7L1242,799L1239.1,798.4L1236.1,797.9L1233.1,797.5L1230.2,797.3L1227.5,797.1L1224.9,797L1222.7,796.9L1220.7,796.9L1219.2,796.9Z" fill="#86a4ff" />
</g>

<!-- HEART -->
<g id="heart">
<path d="M779.6,991C779.8,985.8 779.8,970 781,960C782.2,950 784.8,939.7 787.1,930.7C789.4,921.7 792,913.5 795,906C798,898.5 801.2,892.5 805.2,885.5C809.2,878.5 814,870.5 819,864C824,857.5 829.1,851.6 835.4,846.3C841.7,841 849.5,836 857,832C864.5,828 872.1,824.8 880.6,822.2C889.1,819.6 898.5,817.6 908,816.5C917.5,815.4 927.6,815 937.9,815.6C948.2,816.2 959.5,817.4 970,820C980.5,822.6 991,824.9 1001.2,831.3C1011.4,837.7 1022.3,850.4 1031.3,858.4C1040.3,866.4 1049.3,874.9 1055.4,879.5C1061.5,884.1 1064,884.6 1068,886C1072,887.4 1077.7,887.7 1079.6,888C1083,885.5 1093,878.4 1100,873C1107,867.6 1110.6,864.9 1121.8,855.4C1133,845.9 1155.6,824.1 1167,816.2C1178.4,808.3 1182.5,809.8 1190,808C1197.5,806.2 1203.5,805.2 1212.2,805.6C1220.9,806 1234.4,807.7 1242.4,810.1C1250.4,812.5 1255,816 1260,820C1265,824 1268.5,828.3 1272.5,834.3C1276.5,840.3 1281,848.5 1284,856C1287,863.5 1289.3,871.2 1290.6,879.5C1291.9,887.8 1291.8,901.6 1292,906C1293.4,901.1 1295.1,886.5 1300.6,876.6C1306,866.7 1314.7,859 1324.7,846.4C1334.8,833.8 1349.9,813.8 1360.9,801.2C1372,788.6 1384.5,776.7 1391,771C1397.5,765.3 1393.2,769.2 1400,767.1C1406.8,765 1421.3,760.5 1432,758.5C1442.7,756.5 1455.1,754.9 1464,755.3C1472.9,755.7 1478.2,757.7 1485.3,760.7C1492.4,763.7 1499.8,768.5 1506.7,773.5C1513.6,778.5 1519.9,783.9 1526.5,791C1533.1,798.1 1540.7,806.6 1546.3,816.3C1551.9,826 1556.1,836.8 1559.9,849.4C1563.7,862 1566.9,877 1568.9,891.6C1570.9,906.2 1570.7,925.5 1571.9,936.9C1573.1,948.3 1574,952.5 1576,960C1578,967.5 1579.7,970.9 1584,982.1C1588.3,993.3 1597,1011.8 1602.1,1027.3C1607.1,1042.8 1610.7,1055.6 1614.3,1075C1617.9,1094.4 1621.3,1120.5 1623.6,1143.5C1625.9,1166.5 1627,1186 1628.3,1213C1629.6,1240 1631.8,1277.5 1631.5,1305.5C1631.2,1333.5 1628.7,1360.2 1626.3,1380.9C1623.9,1401.7 1621,1414.9 1617,1430C1613,1445.1 1608,1458.8 1602.2,1471.3C1596.4,1483.8 1589.5,1495 1582,1505C1574.5,1515 1566,1523.9 1557,1531.6C1548,1539.3 1538,1545.5 1528,1551C1518,1556.5 1508,1560.9 1496.7,1564.8C1485.4,1568.7 1472.6,1572.5 1460,1574.5C1447.4,1576.5 1431.3,1576.6 1421.3,1577C1411.3,1577.4 1410.9,1577.9 1400,1577C1389.1,1576.1 1369.8,1573.6 1356.1,1571.5C1342.3,1569.4 1331.4,1567.7 1317.5,1564.5C1303.6,1561.3 1292.4,1558.2 1272.6,1552.1C1252.8,1546 1223.1,1537.3 1198.4,1528C1173.7,1518.7 1148.9,1508.5 1124.2,1496.5C1099.5,1484.5 1068.8,1467.1 1050,1455.7C1031.2,1444.3 1023.3,1436.7 1011.3,1428.1C999.3,1419.5 990,1414.8 977.8,1404C965.5,1393.2 951.1,1379.1 937.8,1363C924.5,1346.9 909.4,1324.5 897.8,1307.4C886.2,1290.3 877.9,1276.9 868.3,1260.4C858.7,1243.9 849.1,1226.3 840.4,1208.3C831.7,1190.3 821.9,1165.6 816.1,1152.6C810.3,1139.5 808.5,1136.8 805.7,1130C802.9,1123.2 802.8,1124.7 799.2,1111.6C795.6,1098.5 787.4,1071.4 784.1,1051.3C780.8,1031.2 780.4,1001 779.6,991Z" fill="#e34544" />
<path d="M937.9,843.3C942.4,844.2 957,846.2 965,848.7C973,851.2 979.3,854.3 986.1,858.4C992.9,862.5 999.7,867.9 1005.7,873.5C1011.7,879 1017.5,885.5 1022.3,891.5C1027.1,897.6 1030.8,903.1 1034.3,909.6C1037.9,916.2 1038.9,919.2 1043.4,930.7C1047.9,942.3 1056.5,966.9 1061.5,979C1066.5,991 1069.9,996.1 1073.5,1003.1C1077.2,1010.1 1080.2,1013.1 1083.2,1021.2C1086.2,1029.2 1089.6,1041.3 1091.6,1051.3C1093.6,1061.4 1094.8,1072.4 1095.2,1081.5C1095.6,1090.5 1094.9,1098.1 1094,1105.6C1093.2,1113.1 1091.9,1118.2 1090.1,1126.7C1088.3,1135.2 1084.8,1149.3 1083.2,1156.8C1081.5,1164.4 1080.5,1165.4 1080.2,1171.9C1079.9,1178.5 1080.6,1187.7 1081.4,1196C1082.2,1204.3 1084.4,1217.4 1085,1221.7C1085.6,1217.9 1087.5,1207.3 1088.6,1199.1C1089.7,1190.8 1089.1,1182.5 1091.6,1171.9C1094.1,1161.4 1099.4,1147.3 1103.7,1135.7C1108,1124.2 1114.2,1111.6 1117.3,1102.6C1120.3,1093.5 1120.8,1089 1121.8,1081.5C1122.8,1073.9 1122.3,1063.9 1123.3,1057.4C1124.3,1050.8 1126,1046.3 1127.8,1042.3C1129.6,1038.3 1130.3,1037.8 1133.8,1033.2C1137.3,1028.7 1144.4,1020.7 1148.9,1015.2C1153.4,1009.6 1157.4,1005.4 1161,1000.1C1164.5,994.8 1167.1,989.1 1170,983.5C1172.9,977.9 1176.8,969.2 1178.1,966.3C1178.8,968.4 1180.4,971.8 1182.1,979C1183.7,986.1 1185.6,999.6 1188.1,1009.1C1190.6,1018.7 1193.1,1027.7 1197.1,1036.3C1201.2,1044.8 1206.7,1051.8 1212.2,1060.4C1217.7,1068.9 1224.3,1076.5 1230.3,1087.5C1236.3,1098.6 1244.5,1115.1 1248.4,1126.7C1252.3,1138.3 1252.6,1148 1253.8,1156.8C1255,1165.7 1254.4,1170.9 1255.5,1180C1256.6,1189.1 1258.3,1200.9 1260.7,1211.3C1263.1,1221.7 1265,1231.1 1270.1,1242.6C1275.1,1254.1 1282.7,1266.3 1291,1280.2C1299.3,1294.1 1311.2,1311.5 1320.2,1326.1C1329.2,1340.7 1337.6,1353.9 1345.2,1367.8C1352.8,1381.7 1360.6,1396.5 1366.1,1409.6C1371.6,1422.7 1375.7,1435.6 1378.4,1446.4C1381.1,1457.2 1382.7,1465.9 1382.1,1474.2C1381.5,1482.5 1379,1490.6 1374.7,1496.5C1370.4,1502.4 1363.8,1507 1356.1,1509.5C1348.4,1512 1342.2,1513.2 1328.3,1511.3C1314.4,1509.4 1294.2,1504.8 1272.6,1498.3C1250.9,1491.8 1223.1,1482.6 1198.4,1472.4C1173.7,1462.2 1145.8,1449.2 1124.2,1437.1C1102.6,1425 1080.8,1408.3 1068.6,1400C1056.4,1391.7 1059.7,1393.9 1050.9,1387.4C1042.2,1381 1027.7,1370.3 1016.1,1361.3C1004.5,1352.3 992.9,1343.7 981.3,1333.5C969.7,1323.3 957.5,1311.7 946.5,1300.4C935.5,1289.1 923.3,1275.6 915.2,1265.7C907.1,1255.8 901.4,1247.8 897.8,1241.3C894.2,1234.8 893.5,1230 893.5,1226.5C893.5,1223 894.7,1222.4 897.8,1220.4C900.9,1218.4 906.8,1216 912,1214.5C917.2,1213 926.2,1212.2 929.1,1211.7C934.9,1212 950.3,1212 963.9,1213.5C977.5,1215 998.2,1218.2 1010.9,1220.4C1023.6,1222.7 1030.7,1224.7 1040,1227C1049.3,1229.3 1062.3,1233.1 1066.8,1234.3C1066.8,1234.3 1069.5,1236.3 1066.6,1234.3C1063.7,1232.4 1055.3,1225.9 1049.4,1222.6C1043.5,1219.2 1039.4,1216.8 1031.3,1214.1C1023.3,1211.5 1011.2,1208.9 1001.2,1206.6C991.1,1204.3 981.1,1202.4 971,1200.6C961,1198.7 950.9,1197.2 940.9,1195.4C930.8,1193.7 919.3,1192 910.7,1190C902.2,1188 895.7,1185.9 889.6,1183.4C883.6,1180.9 879.1,1177.8 874.6,1174.9C870,1172 866,1168.9 862.5,1165.9C859,1162.9 857,1161.4 853.5,1156.8C849.9,1152.3 844.7,1146.3 841.4,1138.8C838.1,1131.2 835.9,1121.2 833.9,1111.6C831.9,1102.1 830.8,1091.5 829.3,1081.5C827.8,1071.4 825.8,1061.4 824.8,1051.3C823.8,1041.3 823.6,1030.2 823.3,1021.2C823.1,1012.1 823.1,1004.6 823.3,997.1C823.6,989.5 823.7,984 824.8,976C825.9,967.9 827.7,957.4 829.9,948.8C832.2,940.3 835.2,932.5 838.4,924.7C841.5,916.9 844.9,909.1 848.9,902.1C853,895.1 857.7,888.3 862.5,882.5C867.3,876.7 872,872 877.6,867.4C883.1,862.9 889.1,858.8 895.7,855.4C902.2,852 909.7,848.9 916.8,846.9C923.8,844.9 934.4,843.9 937.9,843.3Z" fill="#7f9ffe" />
<path d="M1177.5,966.3C1176.3,967.9 1172.3,972.8 1170,976C1167.7,979.1 1167.5,979.5 1164,985C1160.5,990.5 1152.8,1003.8 1148.9,1009.1C1145,1014.4 1143.5,1014.9 1140.5,1016.7C1137.4,1018.4 1133.9,1019.5 1130.8,1019.7C1127.7,1019.8 1124.3,1018.8 1121.8,1017.6C1119.3,1016.3 1118,1015.1 1115.7,1012.1C1113.5,1009.2 1110.2,1004.6 1108.2,1000.1C1106.2,995.6 1104.9,991 1103.7,985C1102.4,979 1101.2,970.4 1100.7,963.9C1100.2,957.4 1099.9,953.3 1100.7,945.8C1101.4,938.3 1102.7,926.7 1105.2,918.7C1107.7,910.6 1111.2,904.6 1115.7,897.6C1120.3,890.5 1126.3,883.5 1132.3,876.5C1138.4,869.4 1146.1,861.1 1151.9,855.4C1157.7,849.6 1162,845.6 1167,841.8C1172,838 1177.5,835 1182.1,832.8C1186.6,830.5 1190.1,829.2 1194.1,828.2C1198.1,827.2 1201.4,826.6 1206.2,826.7C1211,826.8 1217.7,827.6 1222.8,828.8C1227.8,830.1 1231.8,831.6 1236.3,834.3C1240.9,836.9 1245.9,840.8 1249.9,844.8C1253.9,848.8 1257.7,853.4 1260.5,858.4C1263.2,863.4 1265.2,868.9 1266.5,875C1267.7,881 1268.4,887.8 1268,894.6C1267.6,901.3 1265.8,908.6 1264.1,915.7C1262.3,922.7 1261.1,925.2 1257.4,936.8C1253.8,948.3 1245.9,973.7 1242.4,985C1238.8,996.3 1237.8,999.1 1236.3,1004.6C1234.8,1010.1 1234,1014 1233.3,1018.2C1232.7,1022.3 1232.6,1027.7 1232.4,1029.6C1231.1,1029.1 1227.4,1028.8 1224.3,1026.6C1221.2,1024.4 1217.2,1020.6 1213.7,1016.7C1210.2,1012.7 1206.4,1007.9 1203.2,1003.1C1199.9,998.3 1196.6,992.5 1194.1,988C1191.6,983.5 1190.1,979.6 1188.1,976C1186.1,972.3 1183.8,967.9 1182.1,966.3C1180.3,964.7 1178.3,966.3 1177.5,966.3Z" fill="#7f9ffe" />
<path d="M1282.6,925C1283,924 1283.9,920.8 1285.1,918.8C1286.3,916.8 1288.3,914.4 1289.9,912.9C1291.5,911.5 1293,910.6 1294.7,910C1296.4,909.5 1297.5,909 1300.3,909.6C1303.2,910.2 1307.8,912.2 1311.8,913.8C1315.8,915.4 1317,915.6 1324.3,919.2C1331.6,922.8 1348,931 1355.6,935.5C1363.3,939.9 1365.7,942.4 1370.3,945.9C1374.8,949.4 1379.5,953 1382.8,956.3C1386.1,959.6 1388,962.3 1390.1,965.7C1392.2,969.2 1394.1,974.1 1395.3,977.2C1396.4,980.3 1396.9,982.3 1397,984.5C1397,986.8 1396.5,989 1395.7,990.8C1394.9,992.5 1393.6,993.8 1392.2,994.9C1390.7,996.1 1389.6,997 1386.9,997.7C1384.3,998.3 1380,998.8 1376.5,998.9C1373,999.1 1370.3,999.2 1366.1,998.5C1361.9,997.8 1356.3,996.3 1351.5,994.9C1346.6,993.6 1341,991.4 1336.9,990.2C1332.7,988.9 1329.6,988.2 1326.4,987.6C1323.3,987.1 1319.5,986.8 1318.1,986.6C1319.1,987.8 1321.9,991.6 1324.3,993.9C1326.8,996.2 1329.6,998.1 1332.7,1000.2C1335.8,1002.2 1339.6,1004.3 1343.1,1006C1346.6,1007.7 1350.4,1009.2 1353.6,1010.6C1356.7,1012 1359.1,1013.2 1361.9,1014.4C1364.7,1015.5 1367.6,1016.7 1370.3,1017.3C1372.9,1017.9 1375.1,1018.2 1377.6,1018.1C1380,1018 1382.9,1017.7 1384.9,1016.9C1386.8,1016 1388.1,1014.5 1389.4,1013.1C1390.8,1011.7 1391.7,1010.3 1393.2,1008.5C1394.7,1006.8 1396.7,1004.4 1398.4,1002.7C1400.2,1000.9 1401.9,999.5 1403.6,998.1C1405.4,996.7 1406.9,995.2 1408.9,994.3C1410.8,993.5 1413.3,992.8 1415.1,992.9C1417,993 1418.4,993.7 1419.9,994.9C1421.5,996.2 1422.9,997.9 1424.5,1000.2C1426.1,1002.4 1428,1005.4 1429.7,1008.5C1431.5,1011.6 1433,1015.1 1434.9,1018.9C1436.9,1022.8 1439.1,1026.9 1441.2,1031.5C1443.3,1036 1445.2,1041.6 1447.5,1046.1C1449.7,1050.6 1452.4,1055.1 1454.8,1058.6C1457.1,1062.1 1460.5,1065.6 1461.7,1066.9C1462.4,1065.6 1464.8,1062.1 1466.2,1058.6C1467.7,1055.1 1468.9,1050.6 1470.4,1046.1C1472,1041.6 1473.9,1036.3 1475.6,1031.5C1477.4,1026.6 1479.3,1020.9 1480.9,1016.9C1482.4,1012.9 1483.6,1010.3 1485,1007.5C1486.4,1004.7 1487.5,1002.6 1489.2,1000.2C1490.9,997.7 1493.4,994.9 1495.5,992.9C1497.5,990.8 1499.8,989.1 1501.7,987.6C1503.6,986.2 1505.2,985.1 1506.9,984.3C1508.7,983.5 1510.3,983.1 1512.2,983.1C1514,983 1516.4,983.3 1518,983.9C1519.6,984.5 1520.6,985.1 1521.5,986.6C1522.4,988.1 1523.1,990.6 1523.4,992.9C1523.8,995.1 1523.6,996.9 1523.6,1000.2C1523.7,1003.5 1523,1008.5 1523.6,1012.7C1524.2,1016.9 1525.6,1021.4 1527.2,1025.2C1528.7,1029 1530.7,1032.3 1533,1035.6C1535.4,1038.9 1538.9,1042.3 1541.4,1045C1543.8,1047.8 1546.1,1050.1 1547.6,1052.3C1549.2,1054.6 1550.2,1056.5 1550.8,1058.6C1551.3,1060.7 1551.4,1062.4 1550.8,1064.9C1550.2,1067.3 1548.8,1070.4 1547.2,1073.2C1545.6,1076 1544.1,1078.1 1541.4,1081.6C1538.7,1085 1534.2,1090.2 1530.9,1094.1C1527.6,1097.9 1523.3,1101.7 1521.5,1104.5C1519.8,1107.3 1520.3,1108.7 1520.5,1110.8C1520.7,1112.9 1521.5,1114.9 1522.6,1117C1523.6,1119.1 1525.7,1121.2 1526.8,1123.3C1527.8,1125.4 1528.7,1126.1 1528.8,1129.5C1529,1133 1528.5,1138.9 1527.8,1144.2C1527.1,1149.4 1525.4,1155.3 1524.7,1160.9C1524,1166.4 1523.4,1173.4 1523.6,1177.5C1523.9,1181.7 1525.1,1183.5 1526.3,1185.9C1527.6,1188.3 1529.1,1190.1 1530.9,1192.2C1532.7,1194.2 1535.7,1196.5 1537.2,1198.4C1538.7,1200.3 1539.5,1201.2 1539.7,1203.6C1539.9,1206.1 1539.2,1210.1 1538.2,1213C1537.3,1216 1535.1,1218.9 1534.1,1221.4C1533,1223.8 1532,1225.4 1532,1227.6C1532,1229.9 1533.2,1232.5 1534.1,1234.9C1534.9,1237.4 1536.7,1239.6 1537.2,1242.2C1537.6,1244.8 1538,1246.6 1536.8,1250.6C1535.6,1254.6 1531.8,1260.2 1529.9,1266.3C1528,1272.5 1526.6,1280.9 1525.3,1287.4C1524.1,1294 1522.6,1300 1522.3,1305.5C1522.1,1311 1523.3,1315.6 1523.8,1320.6C1524.3,1325.6 1525.2,1331.1 1525.3,1335.7C1525.4,1340.2 1525.2,1344.2 1524.4,1347.7C1523.7,1351.2 1522.9,1353 1520.8,1356.8C1518.7,1360.5 1515.3,1365.3 1511.8,1370.3C1508.3,1375.4 1502.7,1382.1 1499.7,1386.9C1496.7,1391.7 1495.7,1395 1493.7,1399C1491.7,1403 1489.7,1407.4 1487.7,1411C1485.6,1414.7 1483.6,1418.4 1481.6,1420.7C1479.6,1422.9 1477.9,1424.6 1475.6,1424.6C1473.3,1424.6 1470.6,1422.9 1468.1,1420.7C1465.5,1418.4 1465.3,1418.4 1460.5,1411C1455.7,1403.6 1446,1387.4 1439.4,1376.4C1432.9,1365.3 1427.9,1356.5 1421.3,1344.7C1414.8,1332.9 1407.8,1318.1 1400.2,1305.5C1392.7,1293 1385.2,1281.7 1376.1,1269.3C1367.1,1257 1355.5,1243.2 1346,1231.7C1336.4,1220.1 1322.4,1204.8 1318.8,1200C1315.2,1195.2 1325.3,1205.6 1324.3,1202.6C1323.3,1199.5 1316.3,1188.7 1312.9,1181.7C1309.4,1174.8 1305.7,1166.9 1303.5,1160.9C1301.2,1154.8 1300.2,1150.4 1299.3,1145.2C1298.4,1140 1298.2,1134.9 1298.3,1129.5C1298.4,1124.2 1299.1,1118.1 1299.9,1112.9C1300.8,1107.6 1302,1102.9 1303.5,1098.2C1304.9,1093.6 1307,1088.9 1308.7,1084.7C1310.4,1080.5 1312.2,1077.4 1313.9,1073.2C1315.6,1069 1317.9,1064.2 1319.1,1059.6C1320.3,1055.1 1321.2,1050.4 1321.2,1046.1C1321.2,1041.7 1320.3,1037.4 1319.1,1033.6C1317.9,1029.7 1315.4,1026.3 1313.9,1023.1C1312.4,1019.9 1311.2,1016.8 1310.2,1014.4C1309.1,1011.9 1308.5,1009.9 1307.6,1008.5C1306.8,1007.1 1306,1006.4 1305.1,1006C1304.3,1005.6 1303.1,1005.6 1302.4,1006C1301.8,1006.4 1301.5,1007.4 1301.4,1008.5C1301.3,1009.6 1301.5,1010.6 1301.8,1012.7C1302.2,1014.8 1302.8,1018.3 1303.5,1021C1304.1,1023.8 1304.9,1026.6 1305.6,1029.4C1306.3,1032.2 1307.3,1034.9 1307.6,1037.7C1308,1040.5 1308.2,1042.8 1307.6,1046.1C1307.1,1049.4 1305.9,1054.1 1304.5,1057.6C1303.1,1061 1301.4,1064.2 1299.3,1066.9C1297.2,1069.7 1294.8,1072.5 1292,1074.2C1289.2,1076 1285.5,1077.4 1282.6,1077.4C1279.7,1077.4 1277.1,1076 1274.7,1074.2C1272.2,1072.5 1269.9,1070.4 1268,1066.9C1266.1,1063.5 1264.6,1058.6 1263.4,1053.4C1262.2,1048.2 1261.2,1042.1 1260.7,1035.6C1260.1,1029.2 1259.9,1021.7 1260.1,1014.8C1260.2,1007.8 1260.7,1001 1261.7,993.9C1262.8,986.8 1264.6,979 1266.3,972C1268.1,965 1270.3,957.9 1272.2,952.2C1274,946.4 1275.6,942.1 1277.4,937.6C1279.1,933 1281.7,927.1 1282.6,925Z" fill="#f97a79" />
<path d="M1309,873.6C1311.3,870 1317.9,858.9 1322.9,851.6C1327.9,844.3 1332.6,837.5 1339.1,829.6C1345.7,821.6 1354.6,811.8 1362.3,804.1C1370.1,796.3 1379,788 1385.5,783.2C1392.1,778.4 1396,777 1401.8,775.1C1407.6,773.1 1414.1,771.6 1420.3,771.6C1426.5,771.6 1433.1,773.1 1438.9,775.1C1444.7,777 1449.3,779.7 1455.1,783.2C1460.9,786.7 1467.9,791.3 1473.7,795.9C1479.5,800.6 1484.5,805 1489.9,811C1495.3,817 1501.1,824.2 1506.1,831.9C1511.1,839.6 1516.6,850.1 1520,857.4C1523.5,864.7 1525.4,869.8 1527,876C1528.5,882.1 1529.2,888.7 1529.3,894.5C1529.4,900.3 1528.6,905.3 1527.5,910.7C1526.3,916.2 1524.4,922 1522.4,927C1520.3,932 1518.1,935.9 1515.4,940.9C1512.7,945.9 1509.2,951.7 1506.1,957.1C1503,962.5 1499.6,967.6 1496.8,973.4C1494.1,979.2 1492.4,984.6 1489.9,991.9C1487.4,999.3 1484.1,1009.7 1481.8,1017.4C1479.5,1025.2 1477.9,1032.1 1476,1038.3C1474,1044.5 1471.7,1050.7 1470.2,1054.5C1468.6,1058.4 1467.7,1059.9 1466.7,1061.5C1465.7,1063 1465.2,1063.3 1464.4,1063.8C1463.6,1064.3 1462.4,1064.2 1462.1,1064.3C1461.7,1063.8 1460.5,1062.7 1459.7,1061.5C1459,1060.2 1458.4,1060.7 1457.4,1056.8C1456.5,1053 1455.1,1044.1 1453.9,1038.3C1452.8,1032.5 1452.4,1028.6 1450.5,1022.1C1448.5,1015.5 1445.4,1005.8 1442.3,998.9C1439.3,991.9 1435.4,985.9 1431.9,980.3C1428.4,974.7 1425.3,969.9 1421.5,965.2C1417.6,960.6 1413.6,956.7 1408.7,952.5C1403.9,948.2 1398.3,944 1392.5,939.7C1386.7,935.5 1379.9,930.6 1373.9,927C1367.9,923.3 1362.3,920.8 1356.5,917.7C1350.7,914.6 1344.2,911.5 1339.1,908.4C1334.1,905.3 1330.3,902.2 1326.4,899.1C1322.5,896.1 1318.5,892.8 1316,889.9C1313.4,887 1312,884.5 1310.9,881.8C1309.7,879 1309.3,875 1309,873.6Z" fill="#f97a79" stroke="#e34544" stroke-width="3"/>
<path d="M821.3,886.8L820.2,889.3L818.8,892.4L817.1,896.1L815.2,900.2L813.1,904.7L811.1,909.5L809,914.6L807.1,919.8L805.3,925.1L803.7,930.3L802.4,935.7L801.2,941.4L799.9,947.3L798.8,953.3L797.7,959.5L796.8,965.8L795.9,972.2L795.2,978.5L794.6,984.8L794.2,990.9L794,997.1L793.9,1003.3L793.9,1009.6L794.1,1015.9L794.4,1022.2L794.8,1028.4L795.3,1034.5L795.8,1040.4L796.4,1046.1L797,1051.6L797.6,1056.8L798.4,1061.9L799.2,1066.9L800.1,1071.7L801,1076.4L802,1080.9L803,1085.3L804,1089.5L805.1,1093.6L806.1,1097.6L807.1,1101.5L808.2,1105.1L809.2,1108.6L810.3,1112L811.4,1115.2L812.5,1118.4L813.7,1121.5L814.8,1124.6L816,1127.7L817.3,1130.9L818.5,1134L819.7,1137L820.8,1139.8L822,1142.5L823.2,1145.3L824.5,1148.2L825.9,1151.3L827.4,1154.6L829.1,1158.3L831,1162.4L833.1,1167L835.4,1172.1L837.9,1177.5L840.5,1183.1L843.2,1189L846,1195L848.8,1201L851.6,1206.9L854.4,1212.7L857.1,1218.2L859.8,1223.6L862.5,1229L865.1,1234.3L867.8,1239.6L870.5,1244.8L873.3,1250L876.1,1255.2L878.9,1260.4L881.8,1265.5L884.8,1270.6L887.9,1275.7L891.1,1280.8L894.3,1285.8L897.6,1290.8L900.9,1295.7L904.2,1300.7L907.6,1305.5L911,1310.3L914.4,1315.1L917.8,1319.7L921.2,1324.4L924.6,1329L928.1,1333.6L931.5,1338.1L935,1342.6L938.6,1347L942.1,1351.4L945.6,1355.6L949.1,1359.7L952.6,1363.7L956.1,1367.4L959.5,1371L962.8,1374.5L966.2,1377.8L969.6,1381.1L973,1384.2L976.5,1387.4L980,1390.6L983.7,1393.8L987.6,1397.2L991.7,1400.7L996.2,1404.3L1000.9,1408.1L1005.7,1411.9L1010.5,1415.7L1015.3,1419.4L1019.8,1422.8L1024,1426L1027.9,1428.8L1031.2,1431.2L1033.7,1433L1035.3,1434.2L1036.5,1435L1037.4,1435.5L1038.3,1435.9L1039.1,1436.2L1040.1,1436.6L1041.7,1437.4L1044.3,1438.7L1048.1,1440.6L1053.2,1443.4L1059.2,1446.6L1066.1,1450.4L1073.6,1454.5L1081.6,1458.8L1089.8,1463.2L1098.2,1467.6L1106.6,1472L1114.7,1476.1L1122.4,1479.8L1129.8,1483.4L1137.3,1486.9L1144.7,1490.4L1152.2,1493.8L1159.6,1497.2L1167.1,1500.4L1174.6,1503.5L1182.1,1506.4L1189.6,1509.1L1197.2,1511.6L1204.8,1513.8L1212.6,1515.8L1220.4,1517.6L1228.2,1519.2L1235.9,1520.6L1243.6,1522L1251,1523.2L1258.3,1524.3L1265.3,1525.4L1271.9,1526.5L1278.4,1527.5L1284.6,1528.5L1290.7,1529.4L1296.6,1530.2L1302.3,1531L1307.8,1531.6L1313.2,1532.2L1318.4,1532.6L1323.4,1532.9L1328.2,1533L1332.8,1533.1L1337.2,1533.1L1341.5,1532.9L1345.5,1532.7L1349.4,1532.3L1353.2,1531.8L1356.8,1531.1L1360.3,1530.3L1363.6,1529.3L1366.9,1528.2L1370,1526.8L1373,1525.3L1375.8,1523.7L1378.5,1521.9L1381,1519.9L1383.3,1517.8L1385.5,1515.5L1387.5,1513.2L1389.4,1510.6L1391.2,1508L1392.9,1505.1L1394.4,1501.9L1395.7,1498.6L1396.9,1495.2L1397.9,1491.7L1398.8,1488.1L1399.6,1484.6L1400.2,1481.1L1400.7,1477.8L1401,1474.6L1401.2,1471.4L1401.2,1468.4L1401.1,1465.5L1400.8,1462.7L1400.4,1459.9L1399.9,1457.2L1399.3,1454.4L1398.6,1451.6L1397.9,1448.6L1397.3,1445.5L1396.5,1442.2L1395.8,1438.8L1394.9,1435.2L1394.1,1431.6L1393.1,1427.8L1392,1424L1390.9,1420.1L1389.6,1416.1L1388.2,1412.1L1386.7,1408.1L1385,1404L1383.1,1399.9L1381.2,1395.7L1379.1,1391.5L1377,1387.2L1374.7,1383L1372.5,1378.7L1370.2,1374.4L1367.9,1370.1L1365.6,1365.8L1363.2,1361.5L1360.9,1357.2L1358.5,1352.9L1356,1348.5L1353.5,1344.1L1351,1339.7L1348.4,1335.3L1345.8,1330.8L1343.2,1326.3L1340.4,1321.8L1337.6,1317.3L1334.7,1312.6L1331.6,1307.8L1328.5,1303.1L1325.4,1298.3L1322.3,1293.6L1319.3,1289L1316.4,1284.5L1313.6,1280.1L1311,1276L1308.5,1272L1306.1,1268.2L1303.8,1264.5L1301.5,1260.9L1299.4,1257.4L1297.4,1254.1L1295.4,1250.7L1293.6,1247.5L1291.8,1244.2L1290.2,1241L1288.6,1237.7L1287.2,1234.6L1285.9,1231.5L1284.6,1228.5L1283.5,1225.5L1282.4,1222.5L1281.4,1219.5L1280.4,1216.5L1279.5,1213.5L1278.7,1210.4L1277.9,1207.4L1277.3,1204.5L1276.7,1201.6L1276.2,1198.7L1275.7,1195.8L1275.3,1192.8L1274.9,1189.7L1274.4,1186.4L1273.9,1183L1273.3,1179.5L1272.7,1175.8L1272,1171.8L1271.4,1167.7L1270.8,1163.4L1270.1,1159.1L1269.4,1154.8L1268.7,1150.5L1267.9,1146.3L1267.1,1142.3L1266.2,1138.5L1265.2,1134.9L1264.2,1131.6L1263.2,1128.4L1262.2,1125.3L1261.1,1122.3L1259.9,1119.3L1258.7,1116.4L1257.5,1113.4L1256.2,1110.3L1254.9,1107.1L1253.4,1103.7L1251.9,1100.1L1250.3,1096.5L1248.6,1092.8L1246.9,1089.1L1245.2,1085.5L1243.5,1082L1241.8,1078.6L1240.1,1075.4L1238.5,1072.4L1236.9,1069.6L1235.2,1066.9L1233.5,1064.3L1231.8,1061.8L1230.2,1059.5L1228.6,1057.4L1227.1,1055.4L1225.8,1053.7L1224.7,1052.3L1223.8,1051.1L1223.2,1051.5L1223.9,1052.8L1224.9,1054.4L1226.1,1056.2L1227.4,1058.2L1228.8,1060.4L1230.3,1062.8L1231.8,1065.4L1233.4,1068L1234.9,1070.8L1236.3,1073.6L1237.7,1076.6L1239.2,1079.8L1240.8,1083.2L1242.4,1086.8L1243.9,1090.5L1245.5,1094.2L1247,1097.9L1248.5,1101.6L1249.9,1105.1L1251.1,1108.5L1252.3,1111.8L1253.5,1114.9L1254.6,1117.9L1255.6,1120.9L1256.6,1123.9L1257.5,1126.8L1258.4,1129.9L1259.2,1133L1260,1136.3L1260.8,1139.7L1261.6,1143.4L1262.3,1147.3L1262.9,1151.4L1263.6,1155.7L1264.2,1160L1264.7,1164.3L1265.3,1168.6L1265.8,1172.7L1266.4,1176.7L1266.9,1180.5L1267.4,1184L1267.9,1187.3L1268.3,1190.5L1268.7,1193.7L1269.1,1196.7L1269.5,1199.8L1269.9,1202.8L1270.5,1205.9L1271.1,1209L1271.9,1212.2L1272.8,1215.4L1273.6,1218.5L1274.6,1221.6L1275.6,1224.8L1276.7,1227.9L1277.8,1231.1L1279.1,1234.3L1280.4,1237.5L1281.9,1240.9L1283.4,1244.2L1285.1,1247.7L1286.9,1251.1L1288.8,1254.5L1290.7,1257.9L1292.8,1261.4L1294.9,1265L1297.1,1268.6L1299.4,1272.4L1301.8,1276.2L1304.2,1280.2L1306.8,1284.4L1309.6,1288.8L1312.5,1293.4L1315.5,1298L1318.6,1302.8L1321.6,1307.5L1324.7,1312.3L1327.7,1317L1330.6,1321.6L1333.4,1326.2L1336,1330.6L1338.7,1335L1341.3,1339.5L1343.8,1343.8L1346.3,1348.2L1348.8,1352.6L1351.2,1356.9L1353.6,1361.2L1355.9,1365.5L1358.2,1369.8L1360.5,1374L1362.9,1378.3L1365.1,1382.6L1367.4,1386.8L1369.6,1391L1371.7,1395.2L1373.7,1399.3L1375.6,1403.3L1377.3,1407.3L1378.9,1411.1L1380.4,1414.9L1381.7,1418.7L1382.9,1422.5L1384,1426.3L1385.1,1429.9L1386,1433.6L1386.9,1437.1L1387.7,1440.6L1388.4,1444L1389.1,1447.3L1389.9,1450.4L1390.5,1453.4L1391.2,1456.2L1391.7,1458.8L1392.2,1461.3L1392.6,1463.8L1392.8,1466.2L1392.9,1468.6L1392.9,1471.2L1392.8,1473.8L1392.4,1476.7L1392,1479.8L1391.4,1483L1390.7,1486.3L1389.9,1489.5L1389,1492.7L1387.9,1495.7L1386.8,1498.6L1385.5,1501.2L1384.2,1503.6L1382.7,1505.8L1381.1,1508L1379.4,1510L1377.6,1511.8L1375.6,1513.6L1373.6,1515.2L1371.4,1516.7L1369,1518.1L1366.5,1519.3L1363.9,1520.4L1361.1,1521.4L1358.2,1522.3L1355.1,1523L1351.9,1523.6L1348.5,1524L1344.9,1524.4L1341.1,1524.6L1337.1,1524.8L1332.8,1524.8L1328.4,1524.8L1323.8,1524.6L1318.9,1524.3L1313.9,1523.9L1308.7,1523.4L1303.3,1522.7L1297.7,1522L1291.9,1521.2L1285.8,1520.3L1279.7,1519.3L1273.3,1518.3L1266.6,1517.2L1259.6,1516.1L1252.4,1515L1244.9,1513.8L1237.4,1512.5L1229.8,1511L1222.1,1509.5L1214.5,1507.7L1207,1505.8L1199.6,1503.6L1192.3,1501.2L1185,1498.6L1177.7,1495.8L1170.3,1492.7L1163,1489.6L1155.6,1486.3L1148.2,1482.9L1140.8,1479.4L1133.4,1475.9L1126,1472.4L1118.4,1468.7L1110.3,1464.6L1102,1460.4L1093.7,1456L1085.4,1451.6L1077.5,1447.3L1069.9,1443.3L1063.1,1439.6L1057,1436.3L1051.9,1433.6L1047.9,1431.5L1045.2,1430.2L1043.3,1429.3L1042,1428.8L1041.3,1428.5L1041.1,1428.4L1040.8,1428.2L1039.9,1427.6L1038.3,1426.5L1035.8,1424.8L1032.5,1422.4L1028.7,1419.6L1024.5,1416.5L1020,1413.2L1015.3,1409.6L1010.4,1405.9L1005.6,1402.1L1001,1398.4L996.5,1394.8L992.4,1391.4L988.6,1388.2L984.9,1385L981.4,1381.9L977.9,1378.9L974.5,1375.8L971.2,1372.6L967.9,1369.4L964.6,1366.1L961.2,1362.6L957.8,1358.9L954.3,1355.1L950.8,1351.1L947.3,1347L943.8,1342.8L940.3,1338.4L936.8,1334L933.3,1329.5L929.9,1325L926.4,1320.5L923,1315.9L919.6,1311.3L916.2,1306.6L912.8,1301.8L909.4,1297.1L906,1292.2L902.7,1287.4L899.4,1282.4L896.2,1277.5L893.1,1272.5L890,1267.6L887,1262.5L884,1257.5L881.2,1252.4L878.4,1247.3L875.6,1242.1L872.9,1237L870.2,1231.7L867.5,1226.4L864.8,1221.1L862.1,1215.8L859.3,1210.3L856.6,1204.5L853.7,1198.6L850.9,1192.6L848.2,1186.7L845.5,1180.8L842.9,1175.2L840.4,1169.8L838.1,1164.8L836,1160.2L834.1,1156L832.3,1152.4L830.8,1149L829.3,1146L828,1143.1L826.7,1140.4L825.5,1137.7L824.4,1135L823.2,1132.1L821.9,1129.1L820.7,1125.9L819.5,1122.8L818.4,1119.8L817.2,1116.7L816.1,1113.6L815,1110.4L814,1107.1L813,1103.7L811.9,1100.2L810.9,1096.4L809.9,1092.4L808.8,1088.3L807.7,1084.1L806.7,1079.8L805.7,1075.4L804.7,1070.8L803.8,1066.1L802.9,1061.2L802.1,1056.2L801.4,1051L800.8,1045.6L800.2,1040L799.6,1034.1L799.1,1028.1L798.7,1021.9L798.3,1015.7L798.1,1009.5L798,1003.3L798,997.1L798.2,991.1L798.5,985L799,978.9L799.6,972.6L800.4,966.3L801.2,960.1L802.2,953.9L803.2,947.9L804.3,942L805.5,936.4L806.7,931.1L808,925.9L809.5,920.6L811.3,915.4L813.1,910.3L815,905.5L816.8,900.9L818.5,896.7L820.1,893L821.3,889.8L822.3,887.2Z" fill="#ff6262" />
<path d="M1244.8,1037.4L1244.7,1038.6L1244.6,1040.2L1244.5,1042L1244.4,1044L1244.3,1046.3L1244.3,1048.6L1244.3,1051L1244.5,1053.4L1244.7,1055.7L1245.1,1057.9L1245.6,1060L1246.2,1062.1L1246.9,1064.2L1247.7,1066.3L1248.5,1068.4L1249.5,1070.5L1250.5,1072.6L1251.6,1074.6L1252.9,1076.5L1254.2,1078.4L1255.6,1080.2L1257.2,1082L1258.9,1083.7L1260.7,1085.5L1262.6,1087.1L1264.5,1088.7L1266.5,1090.2L1268.6,1091.5L1270.7,1092.6L1272.9,1093.5L1275.3,1094L1277.8,1094.2L1280.3,1094.1L1282.7,1093.8L1285.1,1093.4L1287.2,1092.9L1289.2,1092.4L1291,1092L1292.4,1091.6L1293.4,1091.4L1292.6,1086L1291.4,1086.1L1289.8,1086.4L1288,1086.7L1286.1,1087.1L1284,1087.5L1281.9,1087.7L1279.9,1087.9L1278,1087.9L1276.3,1087.7L1274.9,1087.3L1273.4,1086.7L1271.8,1085.9L1270.1,1084.9L1268.3,1083.7L1266.6,1082.4L1264.9,1080.9L1263.2,1079.4L1261.7,1077.8L1260.2,1076.2L1258.8,1074.6L1257.5,1073.1L1256.3,1071.5L1255.2,1069.8L1254.1,1068.1L1253,1066.2L1252.1,1064.4L1251.2,1062.5L1250.4,1060.6L1249.6,1058.7L1248.9,1056.9L1248.3,1055L1247.8,1052.9L1247.3,1050.7L1247,1048.4L1246.7,1046.1L1246.5,1044L1246.2,1041.9L1246,1040.1L1245.8,1038.6L1245.6,1037.4Z" fill="#ff6262" />
<path d="M1290.7,1087.1L1290.2,1087.9L1289.4,1089L1288.5,1090.4L1287.5,1091.9L1286.4,1093.6L1285.3,1095.5L1284.2,1097.4L1283.2,1099.4L1282.3,1101.4L1281.4,1103.4L1280.8,1105.4L1280.2,1107.4L1279.6,1109.5L1279.1,1111.6L1278.7,1113.8L1278.3,1116L1277.9,1118.3L1277.7,1120.6L1277.5,1122.9L1277.4,1125.2L1277.4,1127.5L1277.5,1129.7L1277.7,1132L1278,1134.2L1278.3,1136.5L1278.7,1138.8L1279.1,1141.2L1279.6,1143.6L1280.2,1146.1L1280.9,1148.7L1281.6,1151.4L1282.4,1154.1L1283.3,1156.9L1284.2,1159.7L1285.1,1162.7L1286.2,1165.7L1287.4,1168.8L1288.7,1172L1290.1,1175.4L1291.6,1178.8L1293.3,1182.5L1295.1,1186.2L1297,1190.2L1299,1194.2L1301.1,1198.3L1303.3,1202.5L1305.6,1206.7L1307.9,1210.9L1310.3,1215.1L1312.7,1219.2L1315.1,1223.2L1317.6,1227L1320,1230.8L1322.5,1234.5L1325.1,1238.3L1327.8,1242.1L1330.6,1246.2L1333.5,1250.4L1336.6,1255L1340,1260L1343.7,1265.3L1347.7,1271.1L1351.9,1277.1L1356.3,1283.4L1360.8,1289.9L1365.4,1296.5L1369.9,1303.1L1374.3,1309.6L1378.6,1316L1382.7,1322.2L1386.7,1328.4L1390.7,1334.7L1394.7,1341.2L1398.6,1347.7L1402.5,1354L1406.3,1360.3L1409.9,1366.3L1413.3,1371.9L1416.6,1377.2L1419.6,1381.9L1422.5,1386.2L1425.2,1390.2L1427.7,1393.9L1430.1,1397.3L1432.4,1400.4L1434.4,1403.2L1436.3,1405.6L1437.9,1407.8L1439.3,1409.7L1440.6,1411.2L1441.2,1410.8L1440.3,1409L1439.1,1407L1437.7,1404.6L1436.1,1402L1434.4,1399.1L1432.4,1395.8L1430.3,1392.3L1428,1388.4L1425.6,1384.3L1423,1379.9L1420.2,1375L1417.1,1369.7L1413.9,1363.9L1410.4,1357.9L1406.8,1351.5L1403.1,1345L1399.3,1338.4L1395.5,1331.8L1391.6,1325.3L1387.7,1319L1383.7,1312.7L1379.5,1306.2L1375.1,1299.5L1370.6,1292.9L1366.2,1286.2L1361.8,1279.7L1357.4,1273.3L1353.3,1267.2L1349.4,1261.4L1345.8,1256L1342.4,1251.1L1339.3,1246.5L1336.3,1242.2L1333.5,1238.2L1330.8,1234.3L1328.3,1230.6L1325.8,1226.9L1323.4,1223.2L1321.1,1219.5L1318.7,1215.6L1316.3,1211.6L1314,1207.5L1311.7,1203.3L1309.5,1199.2L1307.3,1195.1L1305.2,1191L1303.2,1187.1L1301.4,1183.2L1299.6,1179.5L1298,1176L1296.5,1172.6L1295.2,1169.4L1293.9,1166.3L1292.8,1163.3L1291.8,1160.4L1290.8,1157.5L1289.9,1154.8L1289.1,1152.1L1288.4,1149.5L1287.7,1146.9L1287,1144.4L1286.5,1142L1286,1139.7L1285.5,1137.6L1285.2,1135.4L1284.9,1133.4L1284.7,1131.3L1284.5,1129.3L1284.4,1127.3L1284.4,1125.2L1284.4,1123.2L1284.5,1121.1L1284.6,1119L1284.8,1117L1285.1,1114.9L1285.4,1112.9L1285.8,1110.9L1286.2,1108.9L1286.7,1107L1287.2,1105.2L1287.7,1103.4L1288.3,1101.6L1289.1,1099.7L1289.9,1097.9L1290.8,1096.1L1291.7,1094.3L1292.5,1092.7L1293.2,1091.2L1293.8,1090L1294.3,1088.9Z" fill="#ff6262" />
<path d="M1536.3,1006.7L1536.3,1007.7L1536.2,1008.9L1536.2,1010.3L1536.1,1011.9L1536.1,1013.7L1536.2,1015.6L1536.3,1017.5L1536.6,1019.5L1537,1021.5L1537.6,1023.5L1538.5,1025.4L1539.7,1027.3L1541,1029.3L1542.4,1031.2L1543.9,1033.1L1545.4,1035L1546.8,1036.9L1548,1038.7L1549.1,1040.5L1549.9,1042.2L1550.6,1044L1551.3,1045.8L1551.9,1047.5L1552.4,1049.2L1552.8,1050.9L1553.1,1052.6L1553.3,1054.2L1553.3,1056L1553.2,1057.8L1553,1059.6L1552.6,1061.6L1551.9,1063.6L1551.1,1065.9L1550.1,1068.1L1549,1070.5L1547.8,1072.9L1546.5,1075.3L1545.3,1077.7L1544.1,1080L1543,1082.3L1542,1084.6L1540.9,1086.9L1539.7,1089.2L1538.4,1091.6L1537.3,1093.9L1536.1,1096.1L1535.1,1098.3L1534.2,1100.3L1533.5,1102.1L1533.1,1103.8L1532.9,1105.3L1533.1,1106.7L1533.5,1107.8L1534.1,1108.7L1534.8,1109.4L1535.5,1110L1536.2,1110.4L1536.7,1110.7L1537.2,1111L1537.5,1111.2L1538.1,1110.8L1537.9,1110.3L1537.5,1109.8L1537,1109.4L1536.5,1108.9L1536,1108.3L1535.6,1107.7L1535.4,1107L1535.2,1106.3L1535.3,1105.5L1535.5,1104.4L1536,1103L1536.8,1101.4L1537.7,1099.6L1538.9,1097.6L1540.1,1095.4L1541.4,1093.2L1542.8,1090.9L1544.1,1088.6L1545.4,1086.3L1546.6,1084.1L1547.7,1081.9L1548.9,1079.6L1550.2,1077.2L1551.5,1074.8L1552.8,1072.4L1554,1070L1555.1,1067.5L1556.1,1065.1L1556.9,1062.7L1557.4,1060.4L1557.7,1058.1L1557.7,1056L1557.6,1053.9L1557.4,1051.9L1557,1049.9L1556.4,1048L1555.8,1046.2L1555.1,1044.3L1554.4,1042.5L1553.5,1040.6L1552.5,1038.6L1551.2,1036.6L1549.7,1034.7L1548.2,1032.8L1546.6,1030.9L1545.1,1029.1L1543.7,1027.3L1542.3,1025.6L1541.2,1023.9L1540.4,1022.3L1539.7,1020.7L1539.1,1019L1538.6,1017.2L1538.3,1015.4L1538,1013.6L1537.8,1011.9L1537.6,1010.3L1537.5,1008.8L1537.3,1007.6L1537.1,1006.7Z" fill="#ff6262" />
<path d="M1544.5,1184.3L1545,1185.3L1545.7,1186.6L1546.6,1188L1547.6,1189.6L1548.6,1191.3L1549.6,1193L1550.6,1194.8L1551.3,1196.5L1551.9,1198.1L1552.2,1199.6L1552.3,1200.9L1552.3,1202.3L1552.1,1203.8L1551.9,1205.4L1551.5,1206.9L1551.1,1208.5L1550.6,1210.1L1550.1,1211.6L1549.6,1213.2L1549.1,1214.6L1548.7,1215.8L1548.1,1216.9L1547.4,1218.1L1546.7,1219.3L1545.9,1220.5L1545.1,1221.8L1544.3,1223.2L1543.7,1224.7L1543.3,1226.4L1543.2,1228.2L1543.4,1230.1L1544.1,1231.8L1544.9,1233.3L1545.8,1234.7L1546.7,1236L1547.7,1237.3L1548.6,1238.5L1549.3,1239.7L1549.9,1240.7L1550.3,1241.8L1550.6,1243L1551,1244.2L1551.3,1245.3L1551.5,1246.5L1551.6,1247.7L1551.7,1248.8L1551.8,1250.1L1551.7,1251.4L1551.6,1252.8L1551.4,1254.3L1551,1255.9L1550.6,1257.6L1550,1259.4L1549.3,1261.3L1548.5,1263.2L1547.7,1265.3L1546.8,1267.5L1545.9,1269.8L1545.1,1272.3L1544.2,1274.8L1543.4,1277.4L1542.5,1280.1L1541.5,1283L1540.5,1286L1539.5,1289.1L1538.5,1292.3L1537.7,1295.5L1536.9,1298.8L1536.3,1302L1535.9,1305.3L1535.8,1308.5L1536,1311.8L1536.4,1315L1536.9,1318.2L1537.4,1321.3L1538,1324.3L1538.5,1327.3L1538.9,1330.1L1539.1,1332.9L1539.2,1335.6L1539,1338.3L1538.8,1341.1L1538.6,1343.8L1538.2,1346.4L1537.8,1349L1537.2,1351.6L1536.6,1354.2L1535.8,1356.8L1534.9,1359.3L1533.9,1361.8L1532.7,1364.4L1531.2,1367L1529.6,1369.6L1527.8,1372.3L1525.9,1374.9L1523.9,1377.5L1522,1380.1L1520.1,1382.6L1518.5,1385L1517,1387.3L1515.6,1389.6L1514.3,1391.8L1513.1,1394L1512,1396.1L1510.9,1398.2L1509.9,1400.1L1509.1,1401.8L1508.3,1403.4L1507.7,1404.7L1507.2,1405.8L1507.8,1406.2L1508.5,1405.2L1509.3,1403.9L1510.2,1402.5L1511.2,1400.8L1512.4,1399L1513.6,1397L1514.8,1395L1516.2,1392.9L1517.6,1390.8L1519,1388.7L1520.6,1386.6L1522.4,1384.3L1524.4,1382L1526.5,1379.6L1528.6,1377L1530.7,1374.5L1532.8,1371.8L1534.7,1369.2L1536.4,1366.5L1537.9,1363.8L1539.2,1361L1540.2,1358.3L1541.2,1355.6L1542,1352.8L1542.7,1350.1L1543.2,1347.3L1543.7,1344.5L1544.1,1341.6L1544.4,1338.8L1544.6,1335.8L1544.7,1332.7L1544.5,1329.6L1544.1,1326.4L1543.6,1323.3L1543.1,1320.3L1542.6,1317.2L1542.2,1314.3L1541.9,1311.3L1541.8,1308.5L1541.9,1305.7L1542.2,1302.9L1542.8,1300L1543.5,1297L1544.3,1294L1545.2,1290.9L1546.2,1287.9L1547.2,1284.9L1548.2,1282L1549.1,1279.2L1550,1276.6L1550.7,1274.2L1551.5,1271.8L1552.3,1269.6L1553.1,1267.4L1553.9,1265.3L1554.6,1263.2L1555.3,1261.2L1555.9,1259.2L1556.4,1257.2L1556.8,1255.3L1557.1,1253.4L1557.2,1251.7L1557.3,1250.1L1557.2,1248.5L1557.1,1247L1556.9,1245.6L1556.6,1244.2L1556.3,1242.8L1555.9,1241.5L1555.5,1240L1554.9,1238.4L1554,1236.9L1553.1,1235.4L1552.1,1234.1L1551.2,1232.8L1550.3,1231.6L1549.6,1230.5L1549.1,1229.5L1548.8,1228.7L1548.6,1228L1548.7,1227.3L1548.9,1226.5L1549.3,1225.6L1549.8,1224.6L1550.5,1223.4L1551.3,1222.2L1552.2,1220.9L1553,1219.4L1553.7,1217.9L1554.3,1216.2L1554.7,1214.7L1555.1,1213.1L1555.5,1211.4L1555.8,1209.7L1556.2,1207.9L1556.4,1206L1556.6,1204.2L1556.6,1202.3L1556.4,1200.5L1556,1198.6L1555.3,1196.8L1554.3,1195L1553.2,1193.3L1551.9,1191.5L1550.6,1189.9L1549.2,1188.3L1548,1186.9L1546.8,1185.7L1545.9,1184.7L1545.1,1183.9Z" fill="#ff6262" />
<path d="M1572.2,990.5L1572.9,992.7L1573.9,995.4L1575,998.5L1576.3,1001.9L1577.7,1005.7L1579.1,1009.8L1580.6,1014.1L1582.1,1018.6L1583.5,1023.3L1584.8,1028L1586.2,1032.9L1587.6,1038.3L1589,1043.9L1590.4,1049.7L1591.8,1055.7L1593.2,1061.8L1594.5,1067.9L1595.8,1074L1596.9,1080.1L1597.9,1085.9L1598.9,1091.7L1599.8,1097.5L1600.5,1103.2L1601.2,1109L1601.9,1114.8L1602.5,1120.6L1603,1126.4L1603.6,1132.2L1604.1,1138L1604.7,1143.8L1605.2,1149.6L1605.8,1155.5L1606.3,1161.4L1606.8,1167.3L1607.3,1173.3L1607.7,1179.1L1608.1,1184.9L1608.5,1190.6L1608.9,1196.2L1609.3,1201.6L1609.7,1206.8L1610,1211.8L1610.4,1216.8L1610.7,1221.6L1611,1226.3L1611.3,1231L1611.5,1235.7L1611.8,1240.5L1612,1245.2L1612.3,1250.1L1612.7,1255.2L1613,1260.7L1613.3,1266.4L1613.7,1272.2L1614,1277.8L1614.3,1283.2L1614.6,1288.3L1614.9,1292.8L1615.2,1296.6L1615.4,1299.5L1616.2,1299.5L1616.3,1296.5L1616.3,1292.7L1616.4,1288.2L1616.4,1283.2L1616.4,1277.8L1616.4,1272.1L1616.4,1266.3L1616.4,1260.6L1616.3,1255.1L1616.3,1249.9L1616.2,1245.1L1616.1,1240.3L1616,1235.6L1615.8,1230.8L1615.7,1226.1L1615.6,1221.3L1615.4,1216.5L1615.2,1211.6L1615,1206.5L1614.7,1201.2L1614.4,1195.8L1614,1190.2L1613.6,1184.5L1613.2,1178.7L1612.7,1172.8L1612.3,1166.9L1611.8,1160.9L1611.2,1155L1610.7,1149.1L1610.1,1143.2L1609.5,1137.4L1609,1131.6L1608.4,1125.8L1607.7,1120L1607.1,1114.2L1606.4,1108.4L1605.6,1102.6L1604.8,1096.7L1603.9,1090.9L1602.9,1085.1L1601.7,1079.1L1600.4,1073.1L1599,1066.9L1597.5,1060.8L1595.9,1054.7L1594.4,1048.7L1592.8,1042.9L1591.2,1037.3L1589.7,1032L1588.2,1027L1586.6,1022.3L1584.9,1017.7L1583.2,1013.2L1581.4,1008.9L1579.7,1004.9L1578,1001.2L1576.5,997.8L1575.1,994.9L1573.9,992.3L1573,990.3Z" fill="#ff6262" />
<path d="M1498.9,797.3L1500.2,799.8L1502.1,802.9L1504.3,806.6L1506.9,810.7L1509.6,815.1L1512.4,819.8L1515.2,824.4L1517.9,829.1L1520.4,833.5L1522.5,837.7L1524.6,841.8L1526.6,845.9L1528.6,850.1L1530.6,854.4L1532.4,858.6L1534.2,862.7L1535.8,866.7L1537.3,870.5L1538.6,874L1539.7,877.3L1540.7,880.2L1541.5,882.8L1542.2,885.2L1542.7,887.3L1543.1,889.3L1543.4,891.2L1543.5,893.1L1543.6,895L1543.7,897L1543.7,899.1L1543.6,901.3L1543.6,903.4L1543.5,905.4L1543.2,907.5L1542.9,909.5L1542.5,911.6L1542,913.7L1541.3,915.9L1540.5,918.2L1539.5,920.7L1538.4,923.4L1537,926.3L1535.3,929.5L1533.5,932.7L1531.5,936.1L1529.5,939.4L1527.5,942.6L1525.7,945.7L1524,948.6L1522.6,951.2L1521.4,953.6L1520.3,955.8L1519.3,958L1518.4,959.9L1517.6,961.8L1516.9,963.5L1516.3,965L1515.8,966.3L1515.4,967.5L1515.1,968.5L1515.7,968.9L1516.4,968.1L1517.2,967.1L1518.1,966L1519.1,964.7L1520.2,963.2L1521.3,961.6L1522.6,959.8L1523.9,957.9L1525.3,955.9L1526.8,953.8L1528.5,951.4L1530.4,948.8L1532.5,945.9L1534.7,942.8L1537,939.6L1539.2,936.4L1541.4,933.1L1543.5,929.9L1545.3,926.8L1546.9,923.9L1548,921.2L1549,918.5L1549.8,915.9L1550.5,913.5L1551.1,911L1551.5,908.6L1551.8,906.2L1552,903.9L1552.1,901.5L1552.2,899.1L1552.1,896.7L1551.9,894.5L1551.7,892.3L1551.4,890L1550.9,887.8L1550.4,885.5L1549.7,883.1L1548.8,880.5L1547.9,877.7L1546.7,874.7L1545.3,871.4L1543.7,867.8L1542,864L1540.1,860L1538.1,855.9L1536,851.8L1533.8,847.6L1531.5,843.4L1529.2,839.3L1526.9,835.3L1524.3,831.2L1521.4,826.9L1518.3,822.4L1515.2,817.9L1512,813.5L1508.9,809.3L1506,805.4L1503.5,802L1501.3,799.1L1499.5,796.9Z" fill="#ff6262" />
<path d="M1037.1,890.2L1038.3,892.7L1040.1,895.8L1042.2,899.4L1044.6,903.4L1047.1,907.7L1049.7,912.4L1052.3,917.1L1054.9,922L1057.2,926.9L1059.2,931.7L1061.2,936.6L1063.2,942L1065.1,947.8L1066.9,953.8L1068.7,959.8L1070.5,965.7L1072.2,971.5L1073.9,976.8L1075.6,981.7L1077.3,986L1079.3,989.6L1081.3,992.7L1083.3,995.5L1085.2,997.8L1087.1,999.9L1088.9,1001.6L1090.5,1003.1L1092,1004.3L1093.3,1005.4L1094.3,1006.3L1094.9,1005.9L1094.2,1004.6L1093.2,1003.2L1092.1,1001.7L1090.8,999.9L1089.3,998L1087.9,995.8L1086.3,993.4L1084.8,990.6L1083.3,987.5L1081.9,984L1080.3,980L1078.6,975.3L1077,970L1075.3,964.3L1073.5,958.4L1071.7,952.3L1069.9,946.3L1067.9,940.4L1065.9,934.8L1063.8,929.7L1061.3,924.9L1058.5,920L1055.6,915.3L1052.6,910.6L1049.5,906.2L1046.6,902L1043.9,898.2L1041.5,894.9L1039.4,892L1037.7,889.8Z" fill="#ff6262" />
<path d="M1100.4,891.2L1099.3,892L1097.9,892.9L1096.2,894L1094.3,895.4L1092.2,896.9L1090.2,898.7L1088.1,900.7L1086.1,903L1084.3,905.6L1082.8,908.6L1081.7,911.9L1080.8,915.4L1080.1,919.2L1079.4,923.2L1078.9,927.4L1078.5,931.6L1078.1,936L1077.9,940.3L1077.7,944.6L1077.6,948.8L1077.7,953L1077.8,957.2L1078,961.5L1078.4,965.9L1078.8,970.2L1079.3,974.6L1079.9,979L1080.6,983.3L1081.5,987.6L1082.4,991.8L1083.7,996L1085.2,1000.3L1086.9,1004.5L1088.7,1008.7L1090.5,1012.8L1092.4,1016.7L1094.2,1020.6L1095.9,1024.2L1097.5,1027.7L1098.8,1030.9L1100.1,1033.9L1101.2,1036.9L1102.3,1039.8L1103.3,1042.5L1104.2,1045L1105.1,1047.4L1105.9,1049.6L1106.6,1051.5L1107.3,1053.1L1107.8,1054.4L1108.6,1054.2L1108.3,1052.8L1108,1051.1L1107.6,1049.1L1107.1,1046.8L1106.5,1044.4L1105.9,1041.7L1105.2,1038.8L1104.4,1035.8L1103.5,1032.7L1102.6,1029.5L1101.4,1026.1L1100.1,1022.5L1098.6,1018.7L1097,1014.8L1095.4,1010.7L1093.8,1006.6L1092.3,1002.4L1090.9,998.3L1089.7,994.2L1088.8,990.2L1087.9,986.2L1087.1,982.1L1086.5,978L1085.9,973.8L1085.5,969.6L1085.1,965.3L1084.9,961.1L1084.7,957L1084.6,952.8L1084.6,948.8L1084.6,944.7L1084.7,940.6L1084.8,936.3L1085,932.2L1085.4,928L1085.8,924L1086.3,920.2L1086.9,916.7L1087.6,913.4L1088.4,910.6L1089.2,908.1L1090.3,905.7L1091.6,903.4L1093,901.3L1094.6,899.3L1096.2,897.5L1097.7,895.8L1099.1,894.3L1100.2,893L1101,891.8Z" fill="#ff6262" />
<path d="M1300.6,1551.6L1304.3,1552.3L1309,1553.1L1314.5,1554.1L1320.8,1555.3L1327.5,1556.5L1334.5,1557.7L1341.5,1558.8L1348.4,1559.9L1354.9,1560.8L1360.9,1561.5L1366.6,1561.9L1372.6,1562.2L1378.6,1562.4L1384.6,1562.4L1390.4,1562.4L1395.9,1562.4L1401,1562.4L1405.5,1562.3L1409.3,1562.2L1412.3,1562.2L1412.3,1561.4L1409.3,1561.3L1405.5,1561.1L1401,1561L1395.9,1560.9L1390.4,1560.8L1384.7,1560.6L1378.7,1560.4L1372.7,1560L1366.8,1559.6L1361.1,1559.1L1355.2,1558.5L1348.7,1557.8L1341.8,1556.9L1334.8,1555.9L1327.8,1554.8L1321,1553.8L1314.7,1552.9L1309.1,1552L1304.4,1551.3L1300.8,1550.8Z" fill="#ff6262" />
<path d="M976.8,1348L978.3,1349.3L980.3,1350.9L982.7,1352.9L985.4,1355L988.3,1357.3L991.3,1359.7L994.4,1362.2L997.5,1364.6L1000.5,1366.9L1003.3,1369L1006.2,1371L1009.3,1373.1L1012.5,1375.2L1015.7,1377.3L1018.9,1379.4L1021.9,1381.4L1024.7,1383.2L1027.3,1384.8L1029.4,1386.2L1031.1,1387.2L1031.5,1386.6L1029.9,1385.4L1027.9,1383.9L1025.5,1382.1L1022.7,1380.2L1019.8,1378L1016.7,1375.8L1013.6,1373.6L1010.5,1371.3L1007.5,1369.1L1004.7,1367L1001.9,1365L998.8,1362.8L995.6,1360.6L992.4,1358.3L989.3,1356L986.3,1353.8L983.5,1351.8L981,1350L978.9,1348.5L977.2,1347.4Z" fill="#ff6262" />
</g>

<!-- ARROWS -->
<g id="arrows">
<path class="ar" d="M933.9,309C933.9,352.2 933.9,524.8 933.9,568"/><use href="#head" class="ah" transform="translate(933.9,575) rotate(0)"/>
<path class="ds" stroke-dashoffset="12" d="M934.2,625.5C934.3,634.6 934.8,665.6 935,680C935.2,694.4 935.1,697 935.6,712C936.1,727 937,753.4 938,770C939,786.6 940.8,804.6 941.4,811.5"/>
<path class="ar" d="M945.5,848.5C946,854.1 947,871.8 948.3,882C949.5,892.2 951.1,900 953,909.9C954.9,919.8 957.2,932.1 959.4,941.4C961.5,950.7 963.6,957.8 965.9,965.5C968.2,973.2 970.6,980.1 973.4,987.8C976.2,995.5 979.2,1004.2 982.6,1011.9C986,1019.6 990.2,1027.2 993.8,1034.2C997.4,1041.2 1002,1049.9 1004.3,1053.8C1006.6,1057.7 1007.1,1057 1007.7,1057.6"/><use href="#head" class="ah" transform="translate(1012.3,1062.9) rotate(-41.3)"/>
<path class="ar" d="M845.3,1140.3C848.2,1135.5 854.1,1118.9 862.5,1111.6C870.9,1104.3 883.6,1097.8 895.7,1096.5C907.8,1095.2 921.3,1099.1 934.9,1104.1C948.5,1109.1 970.4,1122.7 977.5,1126.4"/><use href="#head" class="ah" transform="translate(983.7,1129.7) rotate(-62.3)"/>
<path class="ar" d="M1080.2,1242.2C1086.1,1253.7 1103.5,1289.9 1115.6,1311.3C1127.7,1332.7 1140,1353.3 1152.9,1370.4C1165.9,1387.5 1181.9,1403.1 1193.3,1413.9C1204.7,1424.7 1213.5,1430.7 1221.3,1435C1229.1,1439.3 1234.2,1440 1239.9,1439.8C1245.6,1439.6 1251.3,1437.4 1255.5,1434.1C1259.7,1430.8 1263,1426.1 1264.8,1420.1C1266.6,1414.1 1267.8,1408.7 1266.3,1398.3C1264.8,1387.9 1263,1379.1 1255.5,1357.9C1248,1336.7 1231.1,1300.9 1221.3,1270.9C1211.5,1240.9 1201.9,1202.9 1196.4,1177.7C1190.9,1152.5 1190.4,1136 1188.5,1120C1186.6,1104 1186.2,1103 1185.1,1081.5C1184,1060 1182.2,1018.6 1182.1,991C1182,963.4 1183.8,932.6 1184.5,915.7C1185.2,898.8 1185.9,893.9 1186.2,889.5"/><use href="#head" class="ah" transform="translate(1186.6,882.5) rotate(-176.4)"/>
<path class="ar" d="M1133.7,801.2C1131.2,794.3 1122.7,772.7 1119,760C1115.3,747.3 1113,738.8 1111.6,725C1110.2,711.2 1109.4,691.2 1110.5,677C1111.6,662.8 1114.3,650.8 1118,640C1121.7,629.2 1126.8,620.7 1132.5,612C1138.2,603.3 1146,594.6 1152,588C1158,581.4 1165.7,574.9 1168.4,572.2"/><use href="#head" class="ah" transform="translate(1173.5,567.4) rotate(-133.8)"/>
<path class="ds" style="stroke-dasharray:14.1 18.2" d="M1129.8,394.8C1130.9,397.7 1134.2,405.6 1136.3,412C1138.4,418.4 1139.7,424.2 1142.3,433.1C1144.9,442 1149.3,455.6 1151.9,465.5C1154.5,475.4 1156.5,487.4 1157.7,492.2C1158.9,497 1158.7,493.9 1158.9,494.2"/>
<path class="ar" d="M1123.5,380C1121.8,377.1 1118.7,371.4 1113.6,362.3C1108.5,353.2 1098.7,334.5 1092.8,325.2C1086.9,315.9 1080.5,309.8 1078.1,306.8"/><use href="#head" class="ah" transform="translate(1073.7,301.3) rotate(-218.6)"/>
<path class="ds" style="stroke-dasharray:15.4 22.9" stroke-dashoffset="7.1" d="M1262.5,318.7C1262,322.1 1260.8,329.5 1259.3,339.1C1257.8,348.7 1255.2,363.9 1253.5,376.3C1251.8,388.7 1250,402.2 1248.8,413.4C1247.6,424.6 1247,432.7 1246.3,443.5C1245.6,454.3 1244.9,467.6 1244.7,478.3C1244.5,489.1 1244.9,503.1 1244.9,508"/>
<path class="ar" d="M1267.9,295.1C1270.6,284.2 1281.3,240.8 1284,230"/><use href="#head" class="ah" transform="translate(1285.7,223.2) rotate(-166.1)"/>
<path class="ds" style="stroke-dasharray:15.2 19.6" stroke-dashoffset="9.3" d="M1316.5,413.9C1316.3,419.2 1315.3,434.7 1315.4,445.8C1315.5,456.9 1316,469.6 1317,480.6C1318,491.6 1320.4,506.4 1321.2,511.9C1322,517.4 1321.6,513.5 1321.7,513.8"/>
<path class="ar" d="M1335.1,341.5C1337.2,336.5 1342.7,320.2 1347.9,311.3C1353.1,302.4 1361.6,293.7 1366.4,288.1C1371.2,282.5 1374.9,279.2 1376.6,277.4"/><use href="#head" class="ah" transform="translate(1381.5,272.4) rotate(-136.1)"/>
<path class="ds" stroke-dashoffset="12" d="M1553.5,691.1C1546.2,691.3 1524.5,691.7 1510,692.5C1495.5,693.3 1486.2,692.7 1466.4,695.7C1446.6,698.7 1410.4,705.7 1391,710.7C1371.6,715.8 1362.5,720.5 1350,726C1337.5,731.5 1326,737.4 1315.7,743.9C1305.4,750.4 1296,758 1288,765C1280,772 1270.8,782.6 1267.4,786.1"/>
<path class="ar" d="M1564,691C1583.3,691.6 1640.2,694.2 1680,694.5C1719.8,694.8 1782.5,693 1803,692.7"/><use href="#head" class="ah" transform="translate(1810,692.6) rotate(-90.8)"/>
<path class="ar" d="M1483.4,850C1481.8,851.5 1477.5,856.8 1474,859C1470.5,861.2 1467.8,862.6 1462.1,863.5C1456.4,864.4 1448.9,864.7 1440,864.5C1431.1,864.3 1417.9,862.2 1408.7,862.5C1399.5,862.8 1392,864.5 1385,866C1378,867.5 1371.8,869.6 1367,871.8C1362.2,874 1358.5,876.2 1356,879C1353.5,881.8 1351.9,885.5 1351.9,888.5C1351.9,891.5 1353.5,894.2 1356,897C1358.5,899.8 1362.9,902.7 1367,905C1371.1,907.3 1378.6,909.6 1380.9,910.5"/><use href="#head" class="ah" transform="translate(1387.4,913.1) rotate(-68.3)"/>
<path class="ar" d="M1486.4,908.4C1484.3,908.6 1477.9,908.2 1474,909.5C1470.1,910.8 1466.3,911.5 1463,916C1459.7,920.5 1455.7,927.5 1453.9,936.3C1452.1,945.1 1451.8,958.9 1452.3,968.7C1452.8,978.5 1455.3,987.6 1457,995C1458.7,1002.4 1461.5,1010 1462.4,1013"/><use href="#head" class="ah" transform="translate(1464.4,1019.7) rotate(-16.7)"/>
<path class="ar" d="M1465.2,1095.9C1465.7,1104.9 1467.1,1132.4 1468,1150C1468.9,1167.6 1470.3,1183 1470.6,1201.4C1470.9,1219.8 1470.8,1244.4 1469.8,1260.3C1468.8,1276.2 1466.8,1289.1 1464.5,1297C1462.2,1304.9 1458.7,1307.4 1456,1307.5C1453.3,1307.6 1454.3,1308.9 1448.5,1297.5C1442.7,1286.1 1428.1,1255 1421.3,1239.2C1414.5,1223.4 1414.9,1220.9 1407.8,1202.6C1400.7,1184.3 1387.3,1152.1 1378.6,1129.5C1369.9,1106.9 1360.9,1081 1355.6,1066.9C1350.3,1052.8 1348.2,1048.3 1346.8,1044.6"/><use href="#head" class="ah" transform="translate(1344.2,1038.1) rotate(-201.6)"/>
<path class="ds" style="stroke-dasharray:17.9 18.3" stroke-dashoffset="8.7" d="M885.5,1349 V1528.7"/>
<path class="ar" d="M885.5,1773.6C885.5,1742.5 885.5,1618.3 885.5,1587.3"/><use href="#head" class="ah" transform="translate(885.5,1580.3) rotate(-180)"/>
<path class="ds" style="stroke-dasharray:18.2 18.8" stroke-dashoffset="9" d="M1269.2,1580 V1798"/>
<use href="#head" class="ah" transform="translate(1269.2,1813.9) rotate(0)"/>
</g>

<!-- LABEL LINES -->
<g id="lines">
<path class="ll" d="M744.7,691.5 H872.5"/>
<path class="ll" d="M746.6,844.5 L914.4,907.7"/>
<path class="ll" d="M744.7,996 H1151.4"/>
<path class="ll" d="M744.7,1215.9 H1008.2"/>
<path class="ll" d="M744.7,1368.8 H1095.2"/>
<path class="ll" d="M744.7,1512 H862"/>
<path class="ll" d="M1469.8,445.3 L1361,564.6"/>
<path class="ll" d="M1568.9,578.1 L1508.5,662.2"/>
<path class="ll" d="M1643.4,831.1 L1809.6,927.4 L1654.5,928.6" stroke-linejoin="round"/>
<path class="ll" d="M1712.4,1053.7 L1485.8,937.7"/>
<path class="ll" d="M1712.4,1141.6 L1480.7,1034.3"/>
<path class="ll" d="M1712.7,1246 L1376.5,1010.8"/>
<path class="ll" d="M1712.3,1348.1 L1485.3,1249.8"/>
</g>
<g id="arrows2">
<path class="ar" d="M1864,769.5C1862.7,769 1859.8,766 1856,766.3C1852.2,766.5 1846.8,768.3 1841,771C1835.2,773.7 1832.4,777.3 1820.9,782.5C1809.4,787.7 1790.1,797 1772.2,802.3C1754.3,807.5 1728.4,811.7 1713.8,814C1699.2,816.3 1689.5,815.6 1684.7,815.9"/><use href="#head" class="ah" transform="translate(1677.7,816.4) rotate(86.2)"/>
<path class="ar" d="M1864,769.5C1864.5,771.6 1867.2,775.9 1867,782C1866.8,788.1 1865.8,797.4 1863,806C1860.2,814.6 1857.2,822.4 1850.2,833.5C1843.2,844.6 1830.7,861.1 1820.9,872.5C1811.2,883.9 1803.1,893.3 1791.7,901.7C1780.3,910.1 1765.6,917.6 1752.7,923.1C1739.8,928.6 1720.9,932.8 1714.6,934.8"/><use href="#head" class="ah" transform="translate(1707.9,936.8) rotate(73)"/>
</g>

<!-- LABELS -->
<g id="labels">
<text class="lbl" x="727.5" y="691" text-anchor="end">Vena cava</text>
<text class="lbl" x="727.5" y="751" text-anchor="end">superior</text>
<text class="lbl" x="727.5" y="843.5" text-anchor="end">Atrium kanan</text>
<text class="lbl" x="727.5" y="996" text-anchor="end">Katup</text>
<text class="lbl" x="727.5" y="1055.5" text-anchor="end">Pulnomalis</text>
<text class="lbl" x="727.5" y="1216" text-anchor="end">Katup trikuspid</text>
<text class="lbl" x="727.5" y="1369" text-anchor="end">Ventrikel kanan</text>
<text class="lbl" x="727.5" y="1512" text-anchor="end">Vena cava</text>
<text class="lbl" x="727.5" y="1571.5" text-anchor="end">inferior</text>
<text class="lbl" x="1489.5" y="443">Aorta</text>
<text class="lbl" x="1588.5" y="576.5">Arteri pulnomalis</text>
<text class="lbl" x="1829.5" y="928">Vena</text>
<text class="lbl" x="1827" y="986.5">pulnomalis</text>
<text class="lbl" x="1733.5" y="1055.5">Atrium kiri</text>
<text class="lbl" x="1731.5" y="1144">Katup mitral</text>
<text class="lbl" x="1731.5" y="1248">Katup aorta</text>
<text class="lbl" x="1734" y="1349">Ventrikel kiri</text>
<text class="paru" x="1875.5" y="754">Paru-paru</text>
</g>
</svg>
</body>
</html>
